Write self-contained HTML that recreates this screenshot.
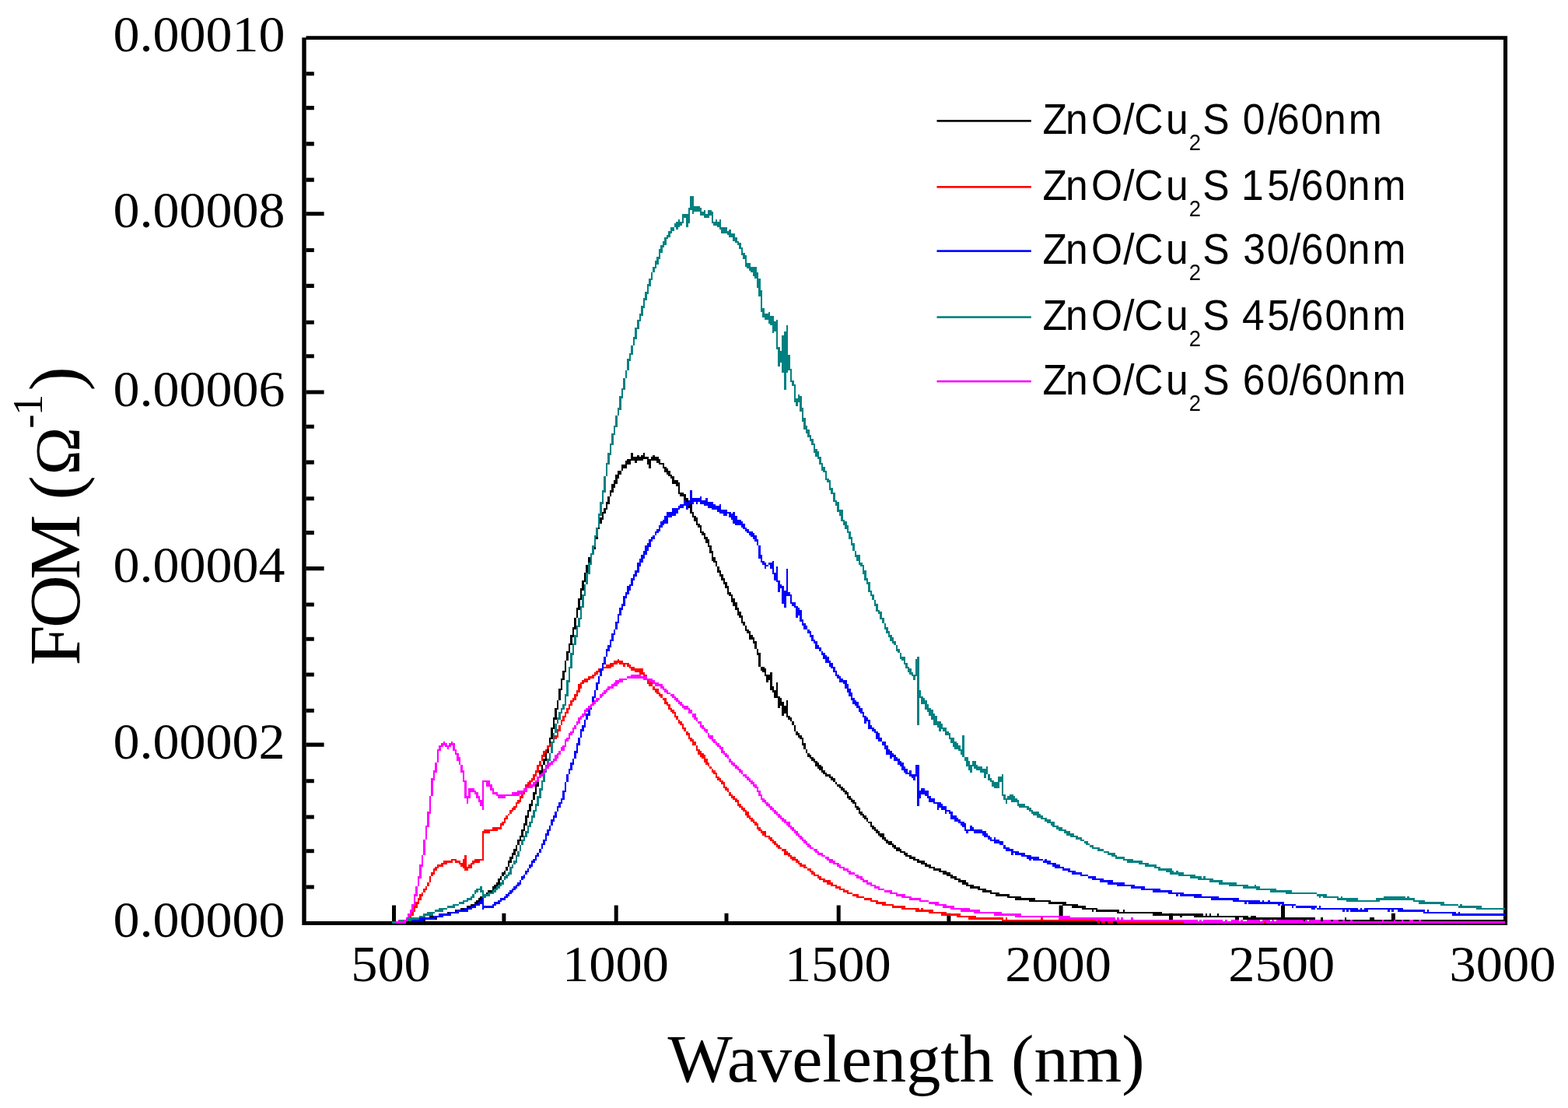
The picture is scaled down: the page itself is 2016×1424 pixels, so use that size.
<!DOCTYPE html><html><head><meta charset="utf-8"><title>FOM vs Wavelength</title><style>html,body{margin:0;padding:0;background:#fff;overflow:hidden;}svg{display:block;}</style></head><body>
<svg width="2016" height="1424" viewBox="0 0 2016 1424">
<rect width="2016" height="1424" fill="#fff"/>
<path d="M393.5,46.3H1938.1V51.1H393.5Z M388.3,48.2H393.7V1189.1H388.3Z M1933,46.3H1938.1V1189.1H1933Z M388.3,1184H1938.1V1189.1H388.3Z" fill="#000"/>
<path d="M393.5,92.25H403.8V97.35H393.5ZM393.5,136.05H403.8V141.15H393.5ZM393.5,182.35H403.8V187.45H393.5ZM393.5,228.55H403.8V233.65H393.5ZM393.5,272.15H416.6V277.25H393.5ZM393.5,318.95H403.8V324.05H393.5ZM393.5,364.85H403.8V369.95H393.5ZM393.5,411.65H403.8V416.75H393.5ZM393.5,455.25H403.8V460.35H393.5ZM393.5,501.45H416.6V506.55H393.5ZM393.5,545.75H403.8V550.85H393.5ZM393.5,591.55H403.8V596.65H393.5ZM393.5,638.15H403.8V643.25H393.5ZM393.5,682.05H403.8V687.15H393.5ZM393.5,728.05H416.6V733.15H393.5ZM393.5,774.45H403.8V779.55H393.5ZM393.5,818.65H403.8V823.75H393.5ZM393.5,864.45H403.8V869.55H393.5ZM393.5,910.75H403.8V915.85H393.5ZM393.5,954.55H416.6V959.65H393.5ZM393.5,1001.15H403.8V1006.25H393.5ZM393.5,1047.45H403.8V1052.55H393.5ZM393.5,1091.25H403.8V1096.35H393.5ZM393.5,1137.45H403.8V1142.55H393.5ZM504.00,1163.5H509.00V1184.2H504.00ZM645.40,1173.8H650.40V1184.2H645.40ZM789.70,1163.5H794.70V1184.2H789.70ZM931.50,1173.8H936.50V1184.2H931.50ZM1075.70,1163.5H1080.70V1184.2H1075.70ZM1217.40,1173.8H1222.40V1184.2H1217.40ZM1361.60,1163.5H1366.60V1184.2H1361.60ZM1503.00,1173.8H1508.00V1184.2H1503.00ZM1647.00,1163.5H1652.00V1184.2H1647.00ZM1788.90,1173.8H1793.90V1184.2H1788.90Z" fill="#000"/>
<path d="M509 1184h3v3h-3zM512 1184h2v3h-2zM514 1184h3v3h-3zM517 1182h2v2h-2zM519 1182h3v2h-3zM522 1182h2v2h-2zM524 1182h3v2h-3zM527 1182h2v2h-2zM529 1182h3v2h-3zM532 1179h2v5h-2zM534 1179h3v5h-3zM537 1179h2v5h-2zM539 1179h3v3h-3zM542 1179h2v3h-2zM544 1179h3v5h-3zM547 1179h2v3h-2zM549 1179h3v3h-3zM552 1177h2v5h-2zM554 1177h3v5h-3zM557 1177h2v5h-2zM559 1177h3v5h-3zM562 1177h2v2h-2zM564 1177h3v2h-3zM567 1174h3v5h-3zM570 1174h2v3h-2zM572 1174h3v3h-3zM575 1172h2v5h-2zM577 1172h3v5h-3zM580 1172h2v2h-2zM582 1172h3v2h-3zM585 1169h2v5h-2zM587 1169h3v5h-3zM590 1169h2v3h-2zM592 1167h3v5h-3zM595 1167h2v5h-2zM597 1167h3v2h-3zM600 1164h2v5h-2zM602 1164h3v3h-3zM605 1162h2v5h-2zM607 1162h3v5h-3zM610 1159h2v5h-2zM612 1157h3v5h-3zM615 1154h2v5h-2zM617 1152h3v5h-3zM620 1152h2v2h-2zM622 1149h3v3h-3zM625 1147h2v5h-2zM627 1144h3v5h-3zM630 1144h3v3h-3zM633 1139h2v5h-2zM635 1137h3v5h-3zM638 1134h2v5h-2zM640 1129h3v8h-3zM643 1126h2v5h-2zM645 1121h3v5h-3zM648 1119h2v5h-2zM650 1114h3v5h-3zM653 1106h2v8h-2zM655 1101h3v8h-3zM658 1096h2v8h-2zM660 1091h3v8h-3zM663 1086h2v8h-2zM665 1079h3v7h-3zM668 1074h2v7h-2zM670 1066h3v10h-3zM673 1058h2v10h-2zM675 1048h3v13h-3zM678 1041h2v10h-2zM680 1033h3v10h-3zM683 1028h2v8h-2zM685 1018h3v10h-3zM688 1008h2v13h-2zM690 998h3v13h-3zM693 990h3v10h-3zM696 983h2v10h-2zM698 975h3v8h-3zM701 968h2v10h-2zM703 958h3v10h-3zM706 948h2v12h-2zM708 935h3v15h-3zM711 922h2v15h-2zM713 910h3v15h-3zM716 900h2v12h-2zM718 885h3v15h-3zM721 872h2v15h-2zM723 862h3v12h-3zM726 849h2v15h-2zM728 837h3v12h-3zM731 827h2v12h-2zM733 816h3v13h-3zM736 806h2v13h-2zM738 794h3v15h-3zM741 781h2v13h-2zM743 769h3v15h-3zM746 756h2v15h-2zM748 746h3v13h-3zM751 736h2v12h-2zM753 726h3v12h-3zM756 716h3v10h-3zM759 711h2v7h-2zM761 703h3v10h-3zM764 690h2v16h-2zM766 678h3v15h-3zM769 670h2v10h-2zM771 665h3v8h-3zM774 658h2v10h-2zM776 653h3v7h-3zM779 645h2v10h-2zM781 638h3v10h-3zM784 630h2v8h-2zM786 622h3v11h-3zM789 617h2v10h-2zM791 610h3v12h-3zM794 605h2v10h-2zM796 605h3v5h-3zM799 597h2v8h-2zM801 597h3v5h-3zM804 592h2v10h-2zM806 590h3v7h-3zM809 590h2v7h-2zM811 582h3v10h-3zM814 587h2v5h-2zM816 587h3v8h-3zM819 585h3v7h-3zM822 587h2v5h-2zM824 585h3v7h-3zM827 582h2v8h-2zM829 587h3v3h-3zM832 587h2v10h-2zM834 590h3v12h-3zM837 587h2v5h-2zM839 585h3v7h-3zM842 587h2v5h-2zM844 587h3v8h-3zM847 590h2v7h-2zM849 595h3v2h-3zM852 595h2v7h-2zM854 600h3v7h-3zM857 602h2v8h-2zM859 605h3v7h-3zM862 610h2v5h-2zM864 612h3v10h-3zM867 617h2v5h-2zM869 617h3v8h-3zM872 620h2v15h-2zM874 633h3v5h-3zM877 633h2v5h-2zM879 635h3v8h-3zM882 640h3v10h-3zM885 643h2v10h-2zM887 648h3v12h-3zM890 658h2v7h-2zM892 663h3v7h-3zM895 665h2v10h-2zM897 673h3v5h-3zM900 675h2v10h-2zM902 683h3v5h-3zM905 685h2v8h-2zM907 690h3v8h-3zM910 693h2v10h-2zM912 701h3v10h-3zM915 708h2v13h-2zM917 716h3v7h-3zM920 721h2v7h-2zM922 728h3v8h-3zM925 733h2v8h-2zM927 738h3v8h-3zM930 743h2v8h-2zM932 748h3v8h-3zM935 753h2v11h-2zM937 761h3v5h-3zM940 764h2v10h-2zM942 769h3v10h-3zM945 774h3v10h-3zM948 781h2v10h-2zM950 786h3v8h-3zM953 791h2v10h-2zM955 799h3v5h-3zM958 804h2v7h-2zM960 809h3v5h-3zM963 811h2v11h-2zM965 816h3v6h-3zM968 819h2v8h-2zM970 824h3v10h-3zM973 834h2v8h-2zM975 839h3v18h-3zM978 857h2v5h-2zM980 857h3v7h-3zM983 859h2v10h-2zM985 867h3v10h-3zM988 867h2v7h-2zM990 864h3v23h-3zM993 882h2v8h-2zM995 887h3v10h-3zM998 877h2v20h-2zM1000 895h3v15h-3zM1003 897h2v10h-2zM1005 902h3v18h-3zM1008 907h3v10h-3zM1011 900h2v22h-2zM1013 920h3v5h-3zM1016 922h2v5h-2zM1018 927h3v5h-3zM1021 932h2v8h-2zM1023 940h3v5h-3zM1026 942h2v6h-2zM1028 945h3v5h-3zM1031 948h2v10h-2zM1033 955h3v8h-3zM1036 963h2v5h-2zM1038 968h3v5h-3zM1041 970h2v5h-2zM1043 973h3v5h-3zM1046 975h2v5h-2zM1048 978h3v7h-3zM1051 980h2v8h-2zM1053 983h3v7h-3zM1056 985h2v8h-2zM1058 990h3v5h-3zM1061 993h2v5h-2zM1063 995h3v3h-3zM1066 995h2v5h-2zM1068 998h3v5h-3zM1071 1000h3v5h-3zM1074 1005h2v3h-2zM1076 1008h3v3h-3zM1079 1008h2v5h-2zM1081 1011h3v5h-3zM1084 1013h2v5h-2zM1086 1016h3v5h-3zM1089 1018h2v8h-2zM1091 1023h3v5h-3zM1094 1026h2v5h-2zM1096 1028h3v5h-3zM1099 1031h2v7h-2zM1101 1036h3v5h-3zM1104 1038h2v8h-2zM1106 1043h3v5h-3zM1109 1046h2v5h-2zM1111 1048h3v5h-3zM1114 1051h2v5h-2zM1116 1056h3v2h-3zM1119 1056h2v7h-2zM1121 1061h3v5h-3zM1124 1063h2v5h-2zM1126 1066h3v5h-3zM1129 1068h2v6h-2zM1131 1071h3v5h-3zM1134 1071h3v8h-3zM1137 1076h2v5h-2zM1139 1079h3v5h-3zM1142 1081h2v5h-2zM1144 1081h3v5h-3zM1147 1084h2v5h-2zM1149 1086h3v5h-3zM1152 1089h2v5h-2zM1154 1089h3v5h-3zM1157 1091h2v5h-2zM1159 1094h3v2h-3zM1162 1094h2v5h-2zM1164 1096h3v5h-3zM1167 1099h2v2h-2zM1169 1099h3v5h-3zM1172 1101h2v3h-2zM1174 1101h3v5h-3zM1177 1104h2v2h-2zM1179 1104h3v5h-3zM1182 1106h2v3h-2zM1184 1106h3v5h-3zM1187 1106h2v5h-2zM1189 1109h3v5h-3zM1192 1111h2v3h-2zM1194 1111h3v5h-3zM1197 1114h3v2h-3zM1200 1114h2v5h-2zM1202 1116h3v3h-3zM1205 1116h2v3h-2zM1207 1116h3v5h-3zM1210 1119h2v2h-2zM1212 1119h3v5h-3zM1215 1119h2v5h-2zM1217 1121h3v5h-3zM1220 1121h2v5h-2zM1222 1124h3v5h-3zM1225 1126h2v3h-2zM1227 1126h3v5h-3zM1230 1129h2v2h-2zM1232 1129h3v5h-3zM1235 1131h2v3h-2zM1237 1131h3v6h-3zM1240 1131h2v6h-2zM1242 1134h3v5h-3zM1245 1137h2v2h-2zM1247 1137h3v5h-3zM1250 1137h2v5h-2zM1252 1139h3v3h-3zM1255 1139h2v3h-2zM1257 1139h3v5h-3zM1260 1142h3v2h-3zM1263 1142h2v5h-2zM1265 1142h3v5h-3zM1268 1144h2v3h-2zM1270 1144h3v3h-3zM1273 1144h2v5h-2zM1275 1147h3v2h-3zM1278 1147h2v2h-2zM1280 1147h3v5h-3zM1283 1147h2v5h-2zM1285 1149h3v3h-3zM1288 1149h2v3h-2zM1290 1149h3v3h-3zM1293 1149h2v3h-2zM1295 1149h3v5h-3zM1298 1152h2v2h-2zM1300 1152h3v2h-3zM1303 1152h2v2h-2zM1305 1152h3v5h-3zM1308 1152h2v5h-2zM1310 1152h3v5h-3zM1313 1154h2v3h-2zM1315 1154h3v3h-3zM1318 1154h2v3h-2zM1320 1154h3v3h-3zM1323 1154h3v5h-3zM1326 1154h2v5h-2zM1328 1154h3v5h-3zM1331 1157h2v2h-2zM1333 1157h3v2h-3zM1336 1157h2v2h-2zM1338 1157h3v2h-3zM1341 1157h2v2h-2zM1343 1157h3v2h-3zM1346 1157h2v2h-2zM1348 1157h3v5h-3zM1351 1159h2v3h-2zM1353 1159h3v3h-3zM1356 1159h2v3h-2zM1358 1159h3v3h-3zM1361 1159h2v3h-2zM1363 1159h3v3h-3zM1366 1159h2v5h-2zM1368 1159h3v5h-3zM1371 1162h2v2h-2zM1373 1162h3v2h-3zM1376 1162h2v2h-2zM1378 1162h3v5h-3zM1381 1162h2v5h-2zM1383 1162h3v5h-3zM1386 1164h3v3h-3zM1389 1164h2v3h-2zM1391 1164h3v5h-3zM1394 1164h2v5h-2zM1396 1167h3v2h-3zM1399 1167h2v2h-2zM1401 1167h3v2h-3zM1404 1167h2v5h-2zM1406 1167h3v2h-3zM1409 1167h2v5h-2zM1411 1169h3v3h-3zM1414 1169h2v3h-2zM1416 1169h3v3h-3zM1419 1169h2v3h-2zM1421 1169h3v3h-3zM1424 1169h2v3h-2zM1426 1169h3v3h-3zM1429 1169h2v3h-2zM1431 1169h3v3h-3zM1434 1169h2v3h-2zM1436 1169h3v5h-3zM1439 1172h2v2h-2zM1441 1172h3v2h-3zM1444 1169h2v5h-2zM1446 1172h3v2h-3zM1449 1172h3v2h-3zM1452 1172h2v2h-2zM1454 1172h3v2h-3zM1457 1172h2v2h-2zM1459 1172h3v2h-3zM1462 1172h2v2h-2zM1464 1172h3v2h-3zM1467 1172h2v2h-2zM1469 1172h3v2h-3zM1472 1172h2v2h-2zM1474 1172h3v2h-3zM1477 1172h2v2h-2zM1479 1172h3v2h-3zM1482 1172h2v5h-2zM1484 1172h3v5h-3zM1487 1172h2v5h-2zM1489 1172h3v5h-3zM1492 1172h2v5h-2zM1494 1174h3v3h-3zM1497 1174h2v3h-2zM1499 1174h3v3h-3zM1502 1174h2v3h-2zM1504 1174h3v3h-3zM1507 1174h2v3h-2zM1509 1174h3v3h-3zM1512 1174h3v3h-3zM1515 1174h2v3h-2zM1517 1174h3v5h-3zM1520 1174h2v3h-2zM1522 1174h3v3h-3zM1525 1174h2v3h-2zM1527 1174h3v3h-3zM1530 1174h2v3h-2zM1532 1174h3v3h-3zM1535 1174h2v5h-2zM1537 1174h3v5h-3zM1540 1174h2v5h-2zM1542 1174h3v5h-3zM1545 1174h2v5h-2zM1547 1177h3v2h-3zM1550 1174h2v5h-2zM1552 1177h3v2h-3zM1555 1174h2v5h-2zM1557 1177h3v2h-3zM1560 1177h2v2h-2zM1562 1177h3v2h-3zM1565 1174h2v5h-2zM1567 1177h3v2h-3zM1570 1177h2v2h-2zM1572 1177h3v2h-3zM1575 1177h3v2h-3zM1578 1177h2v2h-2zM1580 1177h3v2h-3zM1583 1177h2v2h-2zM1585 1177h3v2h-3zM1588 1177h2v5h-2zM1590 1177h3v5h-3zM1593 1177h2v2h-2zM1595 1177h3v2h-3zM1598 1177h2v5h-2zM1600 1177h3v5h-3zM1603 1177h2v5h-2zM1605 1179h3v3h-3zM1608 1177h2v5h-2zM1610 1177h3v5h-3zM1613 1177h2v5h-2zM1615 1179h3v3h-3zM1618 1179h2v3h-2zM1620 1179h3v3h-3zM1623 1179h2v3h-2zM1625 1179h3v3h-3zM1628 1179h2v3h-2zM1630 1179h3v3h-3zM1633 1179h2v3h-2zM1635 1179h3v3h-3zM1638 1179h3v3h-3zM1641 1179h2v3h-2zM1643 1179h3v3h-3zM1646 1179h2v3h-2zM1648 1179h3v3h-3zM1651 1179h2v3h-2zM1653 1179h3v3h-3zM1656 1179h2v3h-2zM1658 1179h3v3h-3zM1661 1179h2v3h-2zM1663 1179h3v3h-3zM1666 1179h2v3h-2zM1668 1179h3v3h-3zM1671 1179h2v3h-2zM1673 1179h3v3h-3zM1676 1179h2v5h-2zM1678 1179h3v5h-3zM1681 1179h2v3h-2zM1683 1179h3v5h-3zM1686 1179h2v5h-2zM1688 1179h3v5h-3zM1691 1182h2v2h-2zM1693 1182h3v2h-3zM1696 1182h2v2h-2zM1698 1179h3v5h-3zM1701 1182h3v2h-3zM1704 1182h2v2h-2zM1706 1182h3v2h-3zM1709 1182h2v2h-2zM1711 1182h3v2h-3zM1714 1182h2v2h-2zM1716 1182h3v2h-3zM1719 1182h2v2h-2zM1721 1182h3v2h-3zM1724 1182h2v2h-2zM1726 1182h3v2h-3zM1729 1179h2v5h-2zM1731 1182h3v2h-3zM1734 1182h2v2h-2zM1736 1182h3v2h-3zM1739 1182h2v2h-2zM1741 1182h3v2h-3zM1744 1182h2v2h-2zM1746 1182h3v2h-3zM1749 1182h2v2h-2zM1751 1182h3v2h-3zM1754 1182h2v2h-2zM1756 1182h3v2h-3zM1759 1182h2v2h-2zM1761 1179h3v5h-3zM1764 1179h3v5h-3zM1767 1182h2v2h-2zM1769 1182h3v2h-3zM1772 1182h2v2h-2zM1774 1182h3v2h-3zM1777 1182h2v2h-2zM1779 1182h3v2h-3zM1782 1182h2v2h-2zM1784 1182h3v2h-3zM1787 1182h2v2h-2zM1789 1182h3v2h-3zM1792 1182h2v2h-2zM1794 1182h3v2h-3zM1797 1182h2v2h-2zM1799 1182h3v2h-3zM1802 1182h2v2h-2zM1804 1182h3v2h-3zM1807 1182h2v2h-2zM1809 1182h3v2h-3zM1812 1182h2v2h-2zM1814 1182h3v2h-3zM1817 1182h2v2h-2zM1819 1182h3v2h-3zM1822 1182h2v2h-2zM1824 1182h3v2h-3zM1827 1182h3v2h-3zM1830 1182h2v2h-2zM1832 1182h3v2h-3zM1835 1182h2v2h-2zM1837 1182h3v2h-3zM1840 1182h2v2h-2zM1842 1182h3v2h-3zM1845 1182h2v2h-2zM1847 1182h3v2h-3zM1850 1182h2v2h-2zM1852 1182h3v2h-3zM1855 1182h2v2h-2zM1857 1182h3v2h-3zM1860 1182h2v2h-2zM1862 1182h3v2h-3zM1865 1182h2v2h-2zM1867 1182h3v2h-3zM1870 1182h2v2h-2zM1872 1182h3v2h-3zM1875 1182h2v2h-2zM1877 1182h3v2h-3zM1880 1182h2v2h-2zM1882 1182h3v2h-3zM1885 1182h2v2h-2zM1887 1182h3v2h-3zM1890 1182h3v2h-3zM1893 1182h2v2h-2zM1895 1182h3v2h-3zM1898 1182h2v2h-2zM1900 1182h3v2h-3zM1903 1182h2v2h-2zM1905 1182h3v2h-3zM1908 1182h2v2h-2zM1910 1182h3v2h-3zM1913 1182h2v2h-2zM1915 1182h3v2h-3zM1918 1182h2v2h-2zM1920 1182h3v2h-3zM1923 1182h2v2h-2zM1925 1182h3v2h-3zM1928 1182h2v2h-2zM1930 1182h3v2h-3zM1933 1182h2v2h-2z" fill="#000000" shape-rendering="crispEdges"/>
<path d="M519 1182h3v5h-3zM522 1179h2v5h-2zM524 1177h3v5h-3zM527 1174h2v5h-2zM529 1169h3v8h-3zM532 1164h2v8h-2zM534 1159h3v8h-3zM537 1154h2v8h-2zM539 1149h3v8h-3zM542 1147h2v5h-2zM544 1142h3v5h-3zM547 1139h2v5h-2zM549 1134h3v5h-3zM552 1126h2v8h-2zM554 1121h3v5h-3zM557 1116h2v8h-2zM559 1114h3v5h-3zM562 1111h2v5h-2zM564 1111h3v3h-3zM567 1109h3v5h-3zM570 1106h2v5h-2zM572 1106h3v5h-3zM575 1106h2v3h-2zM577 1106h3v3h-3zM580 1104h2v5h-2zM582 1104h3v2h-3zM585 1104h2v5h-2zM587 1106h3v3h-3zM590 1106h2v5h-2zM592 1109h3v5h-3zM595 1104h2v12h-2zM597 1099h3v20h-3zM600 1114h2v5h-2zM602 1111h3v5h-3zM605 1109h2v7h-2zM607 1106h3v5h-3zM610 1104h2v5h-2zM612 1104h3v5h-3zM615 1104h2v5h-2zM617 1104h3v2h-3zM620 1068h2v38h-2zM622 1066h3v5h-3zM625 1066h2v5h-2zM627 1066h3v5h-3zM630 1066h3v2h-3zM633 1063h2v5h-2zM635 1063h3v5h-3zM638 1063h2v5h-2zM640 1063h3v3h-3zM643 1058h2v8h-2zM645 1056h3v5h-3zM648 1051h2v7h-2zM650 1048h3v5h-3zM653 1046h2v2h-2zM655 1041h3v5h-3zM658 1038h2v5h-2zM660 1036h3v5h-3zM663 1031h2v7h-2zM665 1028h3v5h-3zM668 1023h2v8h-2zM670 1018h3v8h-3zM673 1013h2v8h-2zM675 1008h3v8h-3zM678 1005h2v6h-2zM680 1003h3v5h-3zM683 1000h2v5h-2zM685 995h3v8h-3zM688 990h2v8h-2zM690 983h3v10h-3zM693 978h3v7h-3zM696 970h2v8h-2zM698 965h3v8h-3zM701 963h2v5h-2zM703 958h3v5h-3zM706 955h2v5h-2zM708 953h3v5h-3zM711 948h2v5h-2zM713 945h3v5h-3zM716 937h2v11h-2zM718 932h3v8h-3zM721 925h2v7h-2zM723 920h3v7h-3zM726 915h2v7h-2zM728 910h3v7h-3zM731 905h2v7h-2zM733 900h3v7h-3zM736 897h2v5h-2zM738 892h3v8h-3zM741 887h2v8h-2zM743 879h3v11h-3zM746 877h2v8h-2zM748 874h3v5h-3zM751 872h2v5h-2zM753 872h3v5h-3zM756 869h3v5h-3zM759 869h2v3h-2zM761 867h3v5h-3zM764 864h2v5h-2zM766 862h3v5h-3zM769 859h2v5h-2zM771 859h3v3h-3zM774 857h2v5h-2zM776 857h3v2h-3zM779 854h2v5h-2zM781 854h3v5h-3zM784 852h2v7h-2zM786 852h3v5h-3zM789 849h2v5h-2zM791 849h3v5h-3zM794 847h2v5h-2zM796 849h3v5h-3zM799 849h2v5h-2zM801 852h3v5h-3zM804 852h2v2h-2zM806 852h3v5h-3zM809 854h2v5h-2zM811 857h3v5h-3zM814 857h2v5h-2zM816 859h3v5h-3zM819 859h3v5h-3zM822 859h2v8h-2zM824 859h3v8h-3zM827 864h2v5h-2zM829 867h3v7h-3zM832 872h2v7h-2zM834 877h3v5h-3zM837 877h2v5h-2zM839 882h3v5h-3zM842 885h2v5h-2zM844 885h3v7h-3zM847 890h2v5h-2zM849 892h3v5h-3zM852 897h2v3h-2zM854 897h3v8h-3zM857 902h2v5h-2zM859 905h3v7h-3zM862 910h2v5h-2zM864 912h3v5h-3zM867 915h2v7h-2zM869 920h3v5h-3zM872 925h2v5h-2zM874 927h3v5h-3zM877 930h2v7h-2zM879 935h3v5h-3zM882 940h3v5h-3zM885 942h2v8h-2zM887 948h3v5h-3zM890 950h2v8h-2zM892 953h3v5h-3zM895 958h2v7h-2zM897 963h3v7h-3zM900 965h2v8h-2zM902 968h3v7h-3zM905 970h2v10h-2zM907 975h3v8h-3zM910 980h2v5h-2zM912 985h3v3h-3zM915 988h2v5h-2zM917 990h3v5h-3zM920 993h2v7h-2zM922 998h3v5h-3zM925 1000h2v5h-2zM927 1003h3v5h-3zM930 1005h2v8h-2zM932 1011h3v5h-3zM935 1013h2v5h-2zM937 1018h3v5h-3zM940 1021h2v5h-2zM942 1023h3v5h-3zM945 1026h3v5h-3zM948 1028h2v8h-2zM950 1033h3v5h-3zM953 1036h2v5h-2zM955 1038h3v5h-3zM958 1041h2v7h-2zM960 1043h3v8h-3zM963 1048h2v5h-2zM965 1051h3v5h-3zM968 1053h2v5h-2zM970 1056h3v5h-3zM973 1058h2v8h-2zM975 1063h3v5h-3zM978 1066h2v5h-2zM980 1068h3v6h-3zM983 1068h2v8h-2zM985 1074h3v2h-3zM988 1074h2v5h-2zM990 1076h3v5h-3zM993 1079h2v5h-2zM995 1081h3v5h-3zM998 1084h2v5h-2zM1000 1086h3v5h-3zM1003 1089h2v2h-2zM1005 1091h3v3h-3zM1008 1091h3v8h-3zM1011 1094h2v5h-2zM1013 1096h3v5h-3zM1016 1099h2v5h-2zM1018 1101h3v5h-3zM1021 1101h2v5h-2zM1023 1104h3v5h-3zM1026 1106h2v5h-2zM1028 1109h3v5h-3zM1031 1111h2v3h-2zM1033 1111h3v5h-3zM1036 1114h2v2h-2zM1038 1116h3v3h-3zM1041 1116h2v5h-2zM1043 1119h3v5h-3zM1046 1121h2v5h-2zM1048 1124h3v2h-3zM1051 1124h2v5h-2zM1053 1126h3v5h-3zM1056 1129h2v2h-2zM1058 1129h3v5h-3zM1061 1131h2v3h-2zM1063 1131h3v6h-3zM1066 1131h2v6h-2zM1068 1134h3v5h-3zM1071 1137h3v2h-3zM1074 1137h2v5h-2zM1076 1139h3v3h-3zM1079 1139h2v5h-2zM1081 1142h3v2h-3zM1084 1142h2v5h-2zM1086 1144h3v3h-3zM1089 1144h2v5h-2zM1091 1147h3v2h-3zM1094 1147h2v2h-2zM1096 1149h3v3h-3zM1099 1149h2v3h-2zM1101 1149h3v5h-3zM1104 1152h2v2h-2zM1106 1152h3v2h-3zM1109 1152h2v2h-2zM1111 1154h3v3h-3zM1114 1154h2v3h-2zM1116 1154h3v3h-3zM1119 1154h2v5h-2zM1121 1157h3v2h-3zM1124 1157h2v2h-2zM1126 1157h3v5h-3zM1129 1159h2v3h-2zM1131 1159h3v3h-3zM1134 1159h3v5h-3zM1137 1159h2v5h-2zM1139 1162h3v2h-3zM1142 1162h2v2h-2zM1144 1162h3v2h-3zM1147 1162h2v5h-2zM1149 1164h3v3h-3zM1152 1164h2v3h-2zM1154 1164h3v3h-3zM1157 1164h2v3h-2zM1159 1164h3v5h-3zM1162 1164h2v5h-2zM1164 1167h3v2h-3zM1167 1167h2v2h-2zM1169 1167h3v2h-3zM1172 1167h2v2h-2zM1174 1167h3v2h-3zM1177 1167h2v5h-2zM1179 1167h3v5h-3zM1182 1169h2v3h-2zM1184 1167h3v5h-3zM1187 1169h2v3h-2zM1189 1169h3v3h-3zM1192 1169h2v3h-2zM1194 1169h3v5h-3zM1197 1169h3v5h-3zM1200 1172h2v2h-2zM1202 1172h3v2h-3zM1205 1172h2v2h-2zM1207 1172h3v2h-3zM1210 1172h2v5h-2zM1212 1172h3v5h-3zM1215 1172h2v5h-2zM1217 1174h3v3h-3zM1220 1174h2v3h-2zM1222 1174h3v3h-3zM1225 1174h2v3h-2zM1227 1174h3v3h-3zM1230 1174h2v5h-2zM1232 1174h3v5h-3zM1235 1177h2v2h-2zM1237 1177h3v2h-3zM1240 1177h2v2h-2zM1242 1177h3v2h-3zM1245 1177h2v5h-2zM1247 1177h3v5h-3zM1250 1177h2v5h-2zM1252 1177h3v5h-3zM1255 1179h2v3h-2zM1257 1179h3v3h-3zM1260 1179h3v3h-3zM1263 1179h2v3h-2zM1265 1179h3v3h-3zM1268 1179h2v3h-2zM1270 1179h3v3h-3zM1273 1179h2v3h-2zM1275 1179h3v3h-3zM1278 1179h2v3h-2zM1280 1179h3v3h-3zM1283 1179h2v3h-2zM1285 1179h3v3h-3zM1288 1179h2v5h-2zM1290 1182h3v2h-3zM1293 1179h2v5h-2zM1295 1182h3v2h-3zM1298 1182h2v2h-2zM1300 1182h3v2h-3zM1303 1182h2v2h-2zM1305 1182h3v2h-3zM1308 1182h2v2h-2zM1310 1182h3v2h-3zM1313 1182h2v2h-2zM1315 1182h3v2h-3zM1318 1182h2v2h-2zM1320 1182h3v2h-3zM1323 1182h3v2h-3zM1326 1182h2v2h-2zM1328 1182h3v2h-3zM1331 1182h2v2h-2zM1333 1182h3v2h-3zM1336 1182h2v2h-2zM1338 1179h3v5h-3zM1341 1182h2v2h-2zM1343 1182h3v2h-3zM1346 1182h2v2h-2zM1348 1182h3v2h-3zM1351 1182h2v2h-2zM1353 1182h3v2h-3zM1356 1182h2v2h-2zM1358 1182h3v2h-3zM1361 1182h2v2h-2zM1363 1182h3v2h-3zM1366 1182h2v2h-2zM1368 1182h3v2h-3zM1371 1182h2v2h-2zM1373 1182h3v2h-3zM1376 1182h2v2h-2zM1378 1182h3v2h-3zM1381 1182h2v2h-2zM1383 1182h3v2h-3zM1386 1182h3v2h-3zM1389 1182h2v2h-2zM1391 1182h3v2h-3zM1394 1182h2v2h-2zM1396 1182h3v2h-3zM1399 1182h2v2h-2zM1401 1182h3v2h-3zM1404 1182h2v2h-2zM1406 1182h3v2h-3zM1409 1182h2v2h-2zM1411 1182h3v5h-3zM1414 1182h2v2h-2zM1416 1182h3v5h-3zM1419 1182h2v5h-2zM1421 1182h3v2h-3zM1424 1182h2v5h-2zM1426 1182h3v5h-3zM1429 1182h2v5h-2zM1431 1182h3v2h-3zM1434 1182h2v2h-2zM1436 1182h3v5h-3zM1439 1182h2v5h-2zM1441 1182h3v5h-3zM1444 1182h2v5h-2zM1446 1182h3v5h-3zM1449 1182h3v5h-3zM1452 1182h2v5h-2zM1454 1182h3v5h-3zM1457 1182h2v5h-2zM1459 1182h3v5h-3zM1462 1182h2v5h-2zM1464 1182h3v5h-3zM1467 1182h2v5h-2zM1469 1182h3v5h-3zM1472 1182h2v5h-2zM1474 1182h3v5h-3zM1477 1182h2v5h-2zM1479 1182h3v5h-3zM1482 1184h2v3h-2zM1484 1182h3v5h-3zM1487 1182h2v5h-2zM1489 1182h3v5h-3zM1492 1184h2v3h-2zM1494 1182h3v5h-3zM1497 1182h2v5h-2zM1499 1182h3v5h-3zM1502 1184h2v3h-2zM1504 1184h3v3h-3zM1507 1184h2v3h-2zM1509 1184h3v3h-3zM1512 1184h3v3h-3zM1515 1184h2v3h-2zM1517 1184h3v3h-3zM1520 1184h2v3h-2zM1522 1182h3v5h-3zM1525 1184h2v3h-2zM1527 1184h3v3h-3zM1530 1184h2v3h-2zM1532 1184h3v3h-3zM1535 1184h2v3h-2zM1537 1182h3v5h-3zM1540 1184h2v3h-2zM1542 1184h3v3h-3zM1545 1184h2v3h-2zM1547 1184h3v3h-3zM1550 1184h2v3h-2zM1552 1184h3v3h-3zM1555 1184h2v3h-2zM1557 1184h3v3h-3zM1560 1184h2v3h-2zM1562 1184h3v3h-3zM1565 1182h2v5h-2zM1567 1184h3v3h-3zM1570 1184h2v3h-2zM1572 1184h3v3h-3zM1575 1184h3v3h-3zM1578 1184h2v3h-2zM1580 1184h3v3h-3zM1583 1184h2v3h-2zM1585 1184h3v3h-3zM1588 1184h2v3h-2zM1590 1184h3v3h-3zM1593 1184h2v3h-2zM1595 1184h3v3h-3zM1598 1184h2v3h-2zM1600 1184h3v3h-3zM1603 1184h2v3h-2zM1605 1184h3v3h-3zM1608 1184h2v3h-2zM1610 1184h3v3h-3zM1613 1184h2v3h-2zM1615 1184h3v3h-3zM1618 1184h2v3h-2zM1620 1184h3v3h-3zM1623 1184h2v3h-2zM1625 1184h3v3h-3zM1628 1184h2v3h-2zM1630 1184h3v3h-3zM1633 1184h2v3h-2zM1635 1184h3v3h-3zM1638 1184h3v3h-3zM1641 1184h2v3h-2zM1643 1184h3v3h-3zM1646 1184h2v3h-2zM1648 1184h3v3h-3zM1651 1184h2v3h-2zM1653 1184h3v3h-3zM1656 1184h2v3h-2zM1658 1184h3v3h-3zM1661 1184h2v3h-2zM1663 1184h3v3h-3zM1666 1184h2v3h-2zM1668 1184h3v3h-3zM1671 1184h2v3h-2zM1673 1184h3v3h-3zM1676 1184h2v3h-2zM1678 1184h3v3h-3zM1681 1184h2v3h-2zM1683 1184h3v3h-3zM1686 1184h2v3h-2zM1688 1184h3v3h-3zM1691 1184h2v3h-2zM1693 1184h3v3h-3zM1696 1184h2v3h-2zM1698 1184h3v3h-3zM1701 1184h3v3h-3zM1704 1184h2v3h-2zM1706 1184h3v3h-3zM1709 1184h2v3h-2zM1711 1184h3v3h-3zM1714 1184h2v3h-2zM1716 1184h3v3h-3zM1719 1184h2v3h-2zM1721 1184h3v3h-3zM1724 1184h2v3h-2zM1726 1184h3v3h-3zM1729 1184h2v3h-2zM1731 1184h3v3h-3zM1734 1184h2v3h-2zM1736 1184h3v3h-3zM1739 1184h2v3h-2zM1741 1184h3v3h-3zM1744 1184h2v3h-2zM1746 1184h3v3h-3zM1749 1184h2v3h-2zM1751 1184h3v3h-3zM1754 1184h2v3h-2zM1756 1184h3v3h-3zM1759 1184h2v3h-2zM1761 1184h3v3h-3zM1764 1184h3v3h-3zM1767 1184h2v3h-2zM1769 1184h3v3h-3zM1772 1184h2v3h-2zM1774 1184h3v3h-3zM1777 1184h2v3h-2zM1779 1184h3v3h-3zM1782 1184h2v3h-2zM1784 1184h3v3h-3zM1787 1184h2v3h-2zM1789 1184h3v3h-3zM1792 1184h2v3h-2zM1794 1184h3v3h-3zM1797 1184h2v3h-2zM1799 1184h3v3h-3zM1802 1184h2v3h-2zM1804 1184h3v3h-3zM1807 1184h2v3h-2zM1809 1184h3v3h-3zM1812 1184h2v3h-2zM1814 1184h3v3h-3zM1817 1184h2v3h-2zM1819 1184h3v3h-3zM1822 1184h2v3h-2zM1824 1184h3v3h-3zM1827 1184h3v3h-3zM1830 1184h2v3h-2zM1832 1184h3v3h-3zM1835 1184h2v3h-2zM1837 1184h3v3h-3zM1840 1184h2v3h-2zM1842 1184h3v3h-3zM1845 1184h2v3h-2zM1847 1184h3v3h-3zM1850 1184h2v3h-2zM1852 1184h3v3h-3zM1855 1184h2v3h-2zM1857 1184h3v3h-3zM1860 1184h2v3h-2zM1862 1184h3v3h-3zM1865 1184h2v3h-2zM1867 1184h3v3h-3zM1870 1184h2v3h-2zM1872 1184h3v3h-3zM1875 1184h2v3h-2zM1877 1184h3v3h-3zM1880 1184h2v3h-2zM1882 1184h3v3h-3zM1885 1184h2v3h-2zM1887 1184h3v3h-3zM1890 1184h3v3h-3zM1893 1184h2v3h-2zM1895 1184h3v3h-3zM1898 1184h2v3h-2zM1900 1184h3v3h-3zM1903 1184h2v3h-2zM1905 1184h3v3h-3zM1908 1184h2v3h-2zM1910 1184h3v3h-3zM1913 1184h2v3h-2zM1915 1184h3v3h-3zM1918 1184h2v3h-2zM1920 1184h3v3h-3zM1923 1184h2v3h-2zM1925 1184h3v3h-3zM1928 1184h2v3h-2zM1930 1184h3v3h-3zM1933 1184h2v3h-2z" fill="#ff0000" shape-rendering="crispEdges"/>
<path d="M509 1184h3v3h-3zM512 1184h2v3h-2zM514 1182h3v2h-3zM517 1182h2v2h-2zM519 1182h3v2h-3zM522 1182h2v2h-2zM524 1182h3v2h-3zM527 1182h2v2h-2zM529 1182h3v2h-3zM532 1182h2v2h-2zM534 1182h3v2h-3zM537 1182h2v2h-2zM539 1179h3v5h-3zM542 1179h2v5h-2zM544 1179h3v3h-3zM547 1179h2v3h-2zM549 1179h3v3h-3zM552 1179h2v3h-2zM554 1179h3v3h-3zM557 1177h2v5h-2zM559 1177h3v2h-3zM562 1177h2v2h-2zM564 1174h3v5h-3zM567 1174h3v5h-3zM570 1174h2v3h-2zM572 1174h3v3h-3zM575 1174h2v3h-2zM577 1172h3v5h-3zM580 1172h2v2h-2zM582 1172h3v2h-3zM585 1172h2v2h-2zM587 1169h3v5h-3zM590 1169h2v3h-2zM592 1169h3v3h-3zM595 1169h2v3h-2zM597 1167h3v5h-3zM600 1167h2v5h-2zM602 1167h3v2h-3zM605 1164h2v5h-2zM607 1164h3v3h-3zM610 1162h2v5h-2zM612 1162h3v2h-3zM615 1159h2v5h-2zM617 1157h3v5h-3zM620 1154h2v15h-2zM622 1164h3v3h-3zM625 1164h2v3h-2zM627 1164h3v3h-3zM630 1164h3v3h-3zM633 1162h2v5h-2zM635 1159h3v5h-3zM638 1159h2v3h-2zM640 1157h3v5h-3zM643 1154h2v5h-2zM645 1154h3v3h-3zM648 1152h2v5h-2zM650 1149h3v5h-3zM653 1147h2v5h-2zM655 1144h3v5h-3zM658 1142h2v5h-2zM660 1139h3v5h-3zM663 1137h2v5h-2zM665 1134h3v5h-3zM668 1131h2v6h-2zM670 1126h3v5h-3zM673 1124h2v5h-2zM675 1119h3v5h-3zM678 1116h2v5h-2zM680 1111h3v5h-3zM683 1106h2v8h-2zM685 1104h3v5h-3zM688 1099h2v7h-2zM690 1096h3v5h-3zM693 1091h3v5h-3zM696 1084h2v7h-2zM698 1079h3v7h-3zM701 1071h2v10h-2zM703 1066h3v8h-3zM706 1061h2v7h-2zM708 1053h3v8h-3zM711 1048h2v8h-2zM713 1043h3v8h-3zM716 1036h2v7h-2zM718 1031h3v7h-3zM721 1026h2v7h-2zM723 1016h3v12h-3zM726 1005h2v13h-2zM728 995h3v10h-3zM731 988h2v7h-2zM733 980h3v10h-3zM736 975h2v8h-2zM738 965h3v10h-3zM741 955h2v13h-2zM743 948h3v10h-3zM746 937h2v11h-2zM748 932h3v8h-3zM751 925h2v10h-2zM753 917h3v8h-3zM756 912h3v8h-3zM759 905h2v7h-2zM761 895h3v12h-3zM764 887h2v10h-2zM766 877h3v10h-3zM769 869h2v10h-2zM771 859h3v10h-3zM774 852h2v10h-2zM776 844h3v10h-3zM779 834h2v10h-2zM781 829h3v8h-3zM784 822h2v10h-2zM786 814h3v10h-3zM789 809h2v7h-2zM791 799h3v10h-3zM794 789h2v12h-2zM796 781h3v10h-3zM799 776h2v8h-2zM801 766h3v13h-3zM804 761h2v8h-2zM806 753h3v11h-3zM809 751h2v8h-2zM811 743h3v10h-3zM814 738h2v8h-2zM816 733h3v8h-3zM819 723h3v13h-3zM822 718h2v10h-2zM824 713h3v10h-3zM827 708h2v10h-2zM829 701h3v12h-3zM832 698h2v10h-2zM834 693h3v10h-3zM837 690h2v6h-2zM839 688h3v5h-3zM842 683h2v5h-2zM844 680h3v5h-3zM847 675h2v8h-2zM849 670h3v8h-3zM852 668h2v7h-2zM854 663h3v10h-3zM857 658h2v15h-2zM859 658h3v7h-3zM862 658h2v7h-2zM864 653h3v10h-3zM867 653h2v10h-2zM869 653h3v7h-3zM872 650h2v5h-2zM874 648h3v5h-3zM877 648h2v5h-2zM879 643h3v7h-3zM882 645h3v10h-3zM885 643h2v7h-2zM887 630h3v18h-3zM890 640h2v8h-2zM892 640h3v5h-3zM895 640h2v8h-2zM897 640h3v5h-3zM900 638h2v10h-2zM902 643h3v5h-3zM905 643h2v7h-2zM907 640h3v10h-3zM910 645h2v8h-2zM912 645h3v8h-3zM915 645h2v10h-2zM917 648h3v7h-3zM920 650h2v5h-2zM922 650h3v8h-3zM925 648h2v12h-2zM927 655h3v5h-3zM930 655h2v8h-2zM932 655h3v8h-3zM935 658h2v2h-2zM937 658h3v7h-3zM940 660h2v8h-2zM942 658h3v15h-3zM945 663h3v12h-3zM948 668h2v7h-2zM950 668h3v7h-3zM953 670h2v8h-2zM955 673h3v7h-3zM958 678h2v5h-2zM960 680h3v5h-3zM963 683h2v5h-2zM965 683h3v7h-3zM968 685h2v8h-2zM970 688h3v8h-3zM973 693h2v8h-2zM975 701h3v17h-3zM978 713h2v10h-2zM980 721h3v5h-3zM983 723h2v8h-2zM985 726h3v2h-3zM988 723h2v3h-2zM990 723h3v8h-3zM993 721h2v17h-2zM995 736h3v10h-3zM998 728h2v20h-2zM1000 746h3v15h-3zM1003 751h2v5h-2zM1005 753h3v23h-3zM1008 759h3v22h-3zM1011 731h2v35h-2zM1013 761h3v5h-3zM1016 764h2v12h-2zM1018 774h3v5h-3zM1021 774h2v7h-2zM1023 779h3v15h-3zM1026 781h2v10h-2zM1028 784h3v15h-3zM1031 796h2v8h-2zM1033 801h3v8h-3zM1036 804h2v5h-2zM1038 809h3v5h-3zM1041 811h2v8h-2zM1043 816h3v8h-3zM1046 822h2v5h-2zM1048 824h3v10h-3zM1051 829h2v5h-2zM1053 832h3v5h-3zM1056 837h2v5h-2zM1058 839h3v8h-3zM1061 842h2v10h-2zM1063 844h3v8h-3zM1066 849h2v8h-2zM1068 852h3v7h-3zM1071 857h3v7h-3zM1074 862h2v7h-2zM1076 867h3v5h-3zM1079 869h2v8h-2zM1081 872h3v5h-3zM1084 874h2v5h-2zM1086 874h3v11h-3zM1089 879h2v11h-2zM1091 885h3v10h-3zM1094 890h2v10h-2zM1096 897h3v8h-3zM1099 900h2v7h-2zM1101 902h3v8h-3zM1104 907h2v8h-2zM1106 910h3v7h-3zM1109 915h2v7h-2zM1111 920h3v10h-3zM1114 922h2v5h-2zM1116 925h3v12h-3zM1119 932h2v5h-2zM1121 935h3v5h-3zM1124 937h2v5h-2zM1126 940h3v10h-3zM1129 942h2v11h-2zM1131 948h3v5h-3zM1134 953h3v5h-3zM1137 953h2v10h-2zM1139 958h3v12h-3zM1142 963h2v7h-2zM1144 965h3v10h-3zM1147 968h2v5h-2zM1149 970h3v8h-3zM1152 973h2v5h-2zM1154 975h3v8h-3zM1157 978h2v7h-2zM1159 980h3v10h-3zM1162 985h2v8h-2zM1164 988h3v7h-3zM1167 993h2v2h-2zM1169 990h3v8h-3zM1172 995h2v5h-2zM1174 995h3v8h-3zM1177 983h2v15h-2zM1179 983h3v53h-3zM1182 1016h2v10h-2zM1184 1013h3v8h-3zM1187 1013h2v8h-2zM1189 1016h3v7h-3zM1192 1016h2v10h-2zM1194 1023h3v8h-3zM1197 1026h3v5h-3zM1200 1026h2v7h-2zM1202 1031h3v2h-3zM1205 1031h2v10h-2zM1207 1031h3v7h-3zM1210 1033h2v8h-2zM1212 1036h3v5h-3zM1215 1036h2v10h-2zM1217 1041h3v2h-3zM1220 1041h2v5h-2zM1222 1043h3v10h-3zM1225 1048h2v5h-2zM1227 1048h3v8h-3zM1230 1051h2v5h-2zM1232 1053h3v5h-3zM1235 1056h2v5h-2zM1237 1056h3v7h-3zM1240 1058h2v10h-2zM1242 1066h3v5h-3zM1245 1066h2v2h-2zM1247 1061h3v7h-3zM1250 1063h2v5h-2zM1252 1066h3v5h-3zM1255 1066h2v5h-2zM1257 1066h3v5h-3zM1260 1066h3v5h-3zM1263 1068h2v6h-2zM1265 1068h3v8h-3zM1268 1071h2v5h-2zM1270 1074h3v5h-3zM1273 1076h2v5h-2zM1275 1079h3v2h-3zM1278 1076h2v8h-2zM1280 1079h3v5h-3zM1283 1079h2v5h-2zM1285 1081h3v5h-3zM1288 1081h2v5h-2zM1290 1086h3v5h-3zM1293 1089h2v5h-2zM1295 1089h3v5h-3zM1298 1091h2v3h-2zM1300 1091h3v8h-3zM1303 1094h2v2h-2zM1305 1094h3v5h-3zM1308 1094h2v5h-2zM1310 1096h3v3h-3zM1313 1096h2v5h-2zM1315 1096h3v5h-3zM1318 1099h2v2h-2zM1320 1099h3v5h-3zM1323 1099h3v7h-3zM1326 1101h2v3h-2zM1328 1101h3v5h-3zM1331 1101h2v5h-2zM1333 1101h3v5h-3zM1336 1104h2v2h-2zM1338 1104h3v2h-3zM1341 1106h2v3h-2zM1343 1104h3v5h-3zM1346 1106h2v5h-2zM1348 1106h3v5h-3zM1351 1109h2v2h-2zM1353 1109h3v5h-3zM1356 1109h2v7h-2zM1358 1111h3v5h-3zM1361 1111h2v5h-2zM1363 1114h3v2h-3zM1366 1114h2v5h-2zM1368 1116h3v3h-3zM1371 1116h2v3h-2zM1373 1116h3v5h-3zM1376 1119h2v2h-2zM1378 1119h3v5h-3zM1381 1119h2v5h-2zM1383 1121h3v3h-3zM1386 1121h3v3h-3zM1389 1121h2v5h-2zM1391 1124h3v2h-3zM1394 1124h2v2h-2zM1396 1124h3v2h-3zM1399 1126h2v3h-2zM1401 1126h3v3h-3zM1404 1126h2v5h-2zM1406 1126h3v5h-3zM1409 1129h2v2h-2zM1411 1129h3v2h-3zM1414 1129h2v5h-2zM1416 1129h3v5h-3zM1419 1131h2v3h-2zM1421 1131h3v3h-3zM1424 1131h2v6h-2zM1426 1131h3v6h-3zM1429 1131h2v6h-2zM1431 1134h3v3h-3zM1434 1134h2v3h-2zM1436 1134h3v5h-3zM1439 1134h2v5h-2zM1441 1134h3v5h-3zM1444 1134h2v5h-2zM1446 1137h3v2h-3zM1449 1137h3v2h-3zM1452 1137h2v2h-2zM1454 1137h3v5h-3zM1457 1137h2v5h-2zM1459 1139h3v3h-3zM1462 1139h2v3h-2zM1464 1139h3v3h-3zM1467 1139h2v5h-2zM1469 1139h3v5h-3zM1472 1142h2v2h-2zM1474 1142h3v2h-3zM1477 1142h2v2h-2zM1479 1142h3v2h-3zM1482 1142h2v5h-2zM1484 1142h3v5h-3zM1487 1142h2v5h-2zM1489 1142h3v5h-3zM1492 1144h2v3h-2zM1494 1144h3v3h-3zM1497 1144h2v3h-2zM1499 1144h3v3h-3zM1502 1144h2v5h-2zM1504 1144h3v5h-3zM1507 1147h2v2h-2zM1509 1147h3v2h-3zM1512 1147h3v5h-3zM1515 1147h2v2h-2zM1517 1147h3v5h-3zM1520 1147h2v5h-2zM1522 1149h3v3h-3zM1525 1149h2v3h-2zM1527 1149h3v3h-3zM1530 1149h2v3h-2zM1532 1149h3v3h-3zM1535 1149h2v5h-2zM1537 1149h3v5h-3zM1540 1149h2v5h-2zM1542 1149h3v5h-3zM1545 1152h2v2h-2zM1547 1152h3v2h-3zM1550 1152h2v2h-2zM1552 1152h3v2h-3zM1555 1152h2v2h-2zM1557 1152h3v5h-3zM1560 1152h2v5h-2zM1562 1152h3v5h-3zM1565 1152h2v5h-2zM1567 1154h3v3h-3zM1570 1154h2v3h-2zM1572 1154h3v3h-3zM1575 1154h3v3h-3zM1578 1154h2v3h-2zM1580 1154h3v3h-3zM1583 1154h2v3h-2zM1585 1154h3v5h-3zM1588 1154h2v5h-2zM1590 1154h3v5h-3zM1593 1157h2v2h-2zM1595 1157h3v2h-3zM1598 1157h2v2h-2zM1600 1157h3v5h-3zM1603 1157h2v2h-2zM1605 1157h3v5h-3zM1608 1157h2v5h-2zM1610 1157h3v5h-3zM1613 1157h2v5h-2zM1615 1157h3v5h-3zM1618 1157h2v5h-2zM1620 1159h3v3h-3zM1623 1157h2v5h-2zM1625 1159h3v3h-3zM1628 1159h2v3h-2zM1630 1157h3v5h-3zM1633 1159h2v3h-2zM1635 1159h3v3h-3zM1638 1159h3v3h-3zM1641 1159h2v3h-2zM1643 1159h3v5h-3zM1646 1159h2v3h-2zM1648 1159h3v5h-3zM1651 1162h2v2h-2zM1653 1162h3v2h-3zM1656 1162h2v2h-2zM1658 1162h3v2h-3zM1661 1162h2v5h-2zM1663 1162h3v2h-3zM1666 1164h2v3h-2zM1668 1164h3v3h-3zM1671 1164h2v3h-2zM1673 1164h3v3h-3zM1676 1164h2v3h-2zM1678 1164h3v3h-3zM1681 1164h2v3h-2zM1683 1164h3v3h-3zM1686 1164h2v5h-2zM1688 1164h3v5h-3zM1691 1164h2v3h-2zM1693 1167h3v2h-3zM1696 1164h2v5h-2zM1698 1167h3v2h-3zM1701 1167h3v2h-3zM1704 1167h2v2h-2zM1706 1167h3v2h-3zM1709 1167h2v2h-2zM1711 1167h3v2h-3zM1714 1167h2v2h-2zM1716 1167h3v2h-3zM1719 1167h2v2h-2zM1721 1167h3v2h-3zM1724 1167h2v2h-2zM1726 1167h3v5h-3zM1729 1167h2v2h-2zM1731 1167h3v5h-3zM1734 1167h2v2h-2zM1736 1167h3v5h-3zM1739 1167h2v5h-2zM1741 1167h3v5h-3zM1744 1167h2v5h-2zM1746 1169h3v3h-3zM1749 1167h2v5h-2zM1751 1169h3v3h-3zM1754 1167h2v5h-2zM1756 1167h3v5h-3zM1759 1167h2v2h-2zM1761 1167h3v2h-3zM1764 1167h3v2h-3zM1767 1167h2v2h-2zM1769 1167h3v2h-3zM1772 1167h2v2h-2zM1774 1167h3v2h-3zM1777 1167h2v2h-2zM1779 1167h3v2h-3zM1782 1167h2v2h-2zM1784 1167h3v5h-3zM1787 1167h2v2h-2zM1789 1167h3v5h-3zM1792 1167h2v2h-2zM1794 1167h3v2h-3zM1797 1167h2v5h-2zM1799 1167h3v5h-3zM1802 1167h2v5h-2zM1804 1169h3v3h-3zM1807 1169h2v3h-2zM1809 1169h3v3h-3zM1812 1169h2v3h-2zM1814 1169h3v3h-3zM1817 1169h2v3h-2zM1819 1169h3v3h-3zM1822 1169h2v3h-2zM1824 1169h3v3h-3zM1827 1169h3v3h-3zM1830 1169h2v5h-2zM1832 1172h3v2h-3zM1835 1169h2v5h-2zM1837 1172h3v2h-3zM1840 1172h2v2h-2zM1842 1172h3v2h-3zM1845 1172h2v2h-2zM1847 1172h3v2h-3zM1850 1172h2v2h-2zM1852 1172h3v2h-3zM1855 1172h2v2h-2zM1857 1172h3v2h-3zM1860 1172h2v2h-2zM1862 1172h3v2h-3zM1865 1172h2v2h-2zM1867 1172h3v5h-3zM1870 1172h2v5h-2zM1872 1174h3v3h-3zM1875 1172h2v5h-2zM1877 1174h3v3h-3zM1880 1174h2v3h-2zM1882 1174h3v3h-3zM1885 1174h2v3h-2zM1887 1174h3v3h-3zM1890 1174h3v3h-3zM1893 1174h2v3h-2zM1895 1174h3v3h-3zM1898 1174h2v3h-2zM1900 1174h3v3h-3zM1903 1174h2v3h-2zM1905 1174h3v3h-3zM1908 1174h2v3h-2zM1910 1174h3v3h-3zM1913 1174h2v3h-2zM1915 1174h3v3h-3zM1918 1174h2v3h-2zM1920 1174h3v3h-3zM1923 1174h2v3h-2zM1925 1174h3v3h-3zM1928 1174h2v3h-2zM1930 1174h3v3h-3zM1933 1174h2v3h-2z" fill="#0000ff" shape-rendering="crispEdges"/>
<path d="M504 1184h3v3h-3zM507 1184h2v3h-2zM509 1184h3v3h-3zM512 1184h2v3h-2zM514 1182h3v5h-3zM517 1182h2v2h-2zM519 1182h3v2h-3zM522 1182h2v2h-2zM524 1179h3v5h-3zM527 1179h2v5h-2zM529 1179h3v3h-3zM532 1179h2v3h-2zM534 1179h3v3h-3zM537 1179h2v3h-2zM539 1177h3v2h-3zM542 1177h2v2h-2zM544 1174h3v5h-3zM547 1174h2v3h-2zM549 1172h3v5h-3zM552 1172h2v5h-2zM554 1172h3v5h-3zM557 1172h2v2h-2zM559 1169h3v3h-3zM562 1169h2v3h-2zM564 1167h3v5h-3zM567 1167h3v5h-3zM570 1167h2v2h-2zM572 1167h3v2h-3zM575 1164h2v3h-2zM577 1164h3v3h-3zM580 1164h2v3h-2zM582 1162h3v5h-3zM585 1162h2v2h-2zM587 1162h3v2h-3zM590 1159h2v3h-2zM592 1159h3v3h-3zM595 1157h2v5h-2zM597 1157h3v2h-3zM600 1154h2v5h-2zM602 1154h3v3h-3zM605 1152h2v5h-2zM607 1149h3v5h-3zM610 1144h2v5h-2zM612 1142h3v5h-3zM615 1142h2v2h-2zM617 1139h3v8h-3zM620 1144h2v10h-2zM622 1149h3v5h-3zM625 1149h2v3h-2zM627 1147h3v5h-3zM630 1147h3v2h-3zM633 1144h2v5h-2zM635 1142h3v5h-3zM638 1139h2v5h-2zM640 1137h3v5h-3zM643 1134h2v5h-2zM645 1131h3v6h-3zM648 1126h2v5h-2zM650 1124h3v5h-3zM653 1121h2v5h-2zM655 1114h3v10h-3zM658 1111h2v5h-2zM660 1106h3v5h-3zM663 1099h2v10h-2zM665 1094h3v7h-3zM668 1086h2v8h-2zM670 1079h3v7h-3zM673 1074h2v7h-2zM675 1068h3v8h-3zM678 1061h2v10h-2zM680 1056h3v7h-3zM683 1048h2v10h-2zM685 1041h3v10h-3zM688 1033h2v10h-2zM690 1023h3v13h-3zM693 1013h3v13h-3zM696 1003h2v13h-2zM698 993h3v12h-3zM701 983h2v10h-2zM703 975h3v10h-3zM706 968h2v10h-2zM708 953h3v15h-3zM711 942h2v13h-2zM713 930h3v12h-3zM716 922h2v8h-2zM718 915h3v10h-3zM721 910h2v7h-2zM723 905h3v7h-3zM726 892h2v15h-2zM728 874h3v21h-3zM731 857h2v20h-2zM733 839h3v20h-3zM736 827h2v15h-2zM738 816h3v13h-3zM741 804h2v15h-2zM743 794h3v12h-3zM746 779h2v17h-2zM748 764h3v17h-3zM751 751h2v15h-2zM753 736h3v15h-3zM756 723h3v15h-3zM759 711h2v15h-2zM761 701h3v12h-3zM764 688h2v15h-2zM766 678h3v12h-3zM769 660h2v18h-2zM771 645h3v18h-3zM774 630h2v18h-2zM776 612h3v21h-3zM779 595h2v17h-2zM781 582h3v15h-3zM784 570h2v15h-2zM786 557h3v15h-3zM789 547h2v12h-2zM791 534h3v15h-3zM794 524h2v10h-2zM796 509h3v18h-3zM799 499h2v13h-2zM801 486h3v15h-3zM804 476h2v10h-2zM806 461h3v15h-3zM809 454h2v10h-2zM811 444h3v12h-3zM814 433h2v11h-2zM816 421h3v15h-3zM819 411h3v12h-3zM822 403h2v10h-2zM824 393h3v13h-3zM827 383h2v13h-2zM829 375h3v11h-3zM832 365h2v13h-2zM834 358h3v10h-3zM837 350h2v10h-2zM839 343h3v7h-3zM842 335h2v10h-2zM844 330h3v10h-3zM847 320h2v13h-2zM849 315h3v10h-3zM852 310h2v8h-2zM854 305h3v10h-3zM857 302h2v5h-2zM859 297h3v8h-3zM862 292h2v8h-2zM864 292h3v5h-3zM867 287h2v5h-2zM869 285h3v10h-3zM872 282h2v10h-2zM874 285h3v5h-3zM877 275h2v12h-2zM879 275h3v5h-3zM882 275h3v17h-3zM885 267h2v20h-2zM887 252h3v18h-3zM890 252h2v23h-2zM892 265h3v7h-3zM895 265h2v7h-2zM897 265h3v7h-3zM900 267h2v10h-2zM902 272h3v5h-3zM905 270h2v10h-2zM907 275h3v5h-3zM910 270h2v10h-2zM912 270h3v7h-3zM915 272h2v15h-2zM917 285h3v5h-3zM920 282h2v8h-2zM922 285h3v7h-3zM925 282h2v13h-2zM927 292h3v8h-3zM930 292h2v8h-2zM932 292h3v8h-3zM935 297h2v5h-2zM937 295h3v10h-3zM940 300h2v5h-2zM942 300h3v10h-3zM945 305h3v7h-3zM948 310h2v5h-2zM950 312h3v8h-3zM953 318h2v10h-2zM955 325h3v8h-3zM958 328h2v15h-2zM960 338h3v7h-3zM963 338h2v10h-2zM965 343h3v7h-3zM968 343h2v12h-2zM970 343h3v15h-3zM973 350h2v20h-2zM975 358h3v23h-3zM978 373h2v28h-2zM980 396h3v12h-3zM983 403h2v8h-2zM985 403h3v8h-3zM988 401h2v15h-2zM990 406h3v12h-3zM993 406h2v22h-2zM995 413h3v13h-3zM998 411h2v38h-2zM1000 446h3v25h-3zM1003 451h2v15h-2zM1005 431h3v48h-3zM1008 426h3v75h-3zM1011 418h2v61h-2zM1013 456h3v20h-3zM1016 474h2v17h-2zM1018 489h3v7h-3zM1021 494h2v23h-2zM1023 512h3v10h-3zM1026 507h2v10h-2zM1028 509h3v20h-3zM1031 524h2v18h-2zM1033 537h3v15h-3zM1036 547h2v10h-2zM1038 552h3v10h-3zM1041 559h2v8h-2zM1043 564h3v8h-3zM1046 570h2v12h-2zM1048 577h3v10h-3zM1051 580h2v10h-2zM1053 587h3v10h-3zM1056 595h2v10h-2zM1058 600h3v7h-3zM1061 605h2v12h-2zM1063 615h3v5h-3zM1066 617h2v13h-2zM1068 627h3v8h-3zM1071 633h3v12h-3zM1074 643h2v7h-2zM1076 645h3v13h-3zM1079 655h2v8h-2zM1081 655h3v15h-3zM1084 668h2v7h-2zM1086 670h3v10h-3zM1089 675h2v10h-2zM1091 683h3v10h-3zM1094 690h2v11h-2zM1096 698h3v10h-3zM1099 708h2v8h-2zM1101 713h3v8h-3zM1104 713h2v13h-2zM1106 723h3v5h-3zM1109 726h2v12h-2zM1111 733h3v13h-3zM1114 743h2v8h-2zM1116 748h3v13h-3zM1119 759h2v7h-2zM1121 764h3v7h-3zM1124 771h2v8h-2zM1126 776h3v10h-3zM1129 784h2v5h-2zM1131 786h3v10h-3zM1134 794h3v7h-3zM1137 801h2v8h-2zM1139 806h3v8h-3zM1142 811h2v8h-2zM1144 816h3v8h-3zM1147 819h2v8h-2zM1149 824h3v5h-3zM1152 829h2v8h-2zM1154 834h3v5h-3zM1157 839h2v8h-2zM1159 844h3v5h-3zM1162 844h2v10h-2zM1164 852h3v7h-3zM1167 857h2v7h-2zM1169 859h3v8h-3zM1172 864h2v5h-2zM1174 867h3v7h-3zM1177 847h2v22h-2zM1179 844h3v88h-3zM1182 887h2v10h-2zM1184 895h3v10h-3zM1187 897h2v8h-2zM1189 900h3v12h-3zM1192 905h2v10h-2zM1194 910h3v10h-3zM1197 912h3v13h-3zM1200 917h2v15h-2zM1202 920h3v12h-3zM1205 927h2v8h-2zM1207 927h3v13h-3zM1210 930h2v7h-2zM1212 935h3v5h-3zM1215 935h2v10h-2zM1217 940h3v5h-3zM1220 942h2v8h-2zM1222 948h3v7h-3zM1225 948h2v12h-2zM1227 953h3v10h-3zM1230 955h2v8h-2zM1232 958h3v7h-3zM1235 963h2v7h-2zM1237 945h3v28h-3zM1240 973h2v5h-2zM1242 973h3v12h-3zM1245 978h2v12h-2zM1247 983h3v10h-3zM1250 978h2v7h-2zM1252 978h3v10h-3zM1255 983h2v7h-2zM1257 985h3v5h-3zM1260 985h3v8h-3zM1263 988h2v5h-2zM1265 988h3v12h-3zM1268 985h2v10h-2zM1270 995h3v8h-3zM1273 1000h2v5h-2zM1275 1003h3v8h-3zM1278 1005h2v8h-2zM1280 1005h3v8h-3zM1283 998h2v15h-2zM1285 998h3v7h-3zM1288 995h2v28h-2zM1290 1021h3v7h-3zM1293 1026h2v7h-2zM1295 1023h3v5h-3zM1298 1021h2v7h-2zM1300 1021h3v10h-3zM1303 1023h2v8h-2zM1305 1026h3v5h-3zM1308 1028h2v8h-2zM1310 1033h3v5h-3zM1313 1033h2v5h-2zM1315 1033h3v5h-3zM1318 1036h2v2h-2zM1320 1036h3v5h-3zM1323 1038h3v5h-3zM1326 1041h2v5h-2zM1328 1043h3v5h-3zM1331 1043h2v5h-2zM1333 1043h3v8h-3zM1336 1046h2v5h-2zM1338 1048h3v5h-3zM1341 1051h2v2h-2zM1343 1051h3v5h-3zM1346 1053h2v5h-2zM1348 1053h3v5h-3zM1351 1056h2v5h-2zM1353 1056h3v7h-3zM1356 1061h2v2h-2zM1358 1061h3v5h-3zM1361 1063h2v5h-2zM1363 1063h3v5h-3zM1366 1066h2v2h-2zM1368 1066h3v5h-3zM1371 1068h2v6h-2zM1373 1068h3v6h-3zM1376 1071h2v5h-2zM1378 1071h3v5h-3zM1381 1074h2v2h-2zM1383 1074h3v5h-3zM1386 1076h3v3h-3zM1389 1076h2v5h-2zM1391 1079h3v2h-3zM1394 1081h2v3h-2zM1396 1081h3v5h-3zM1399 1084h2v2h-2zM1401 1086h3v3h-3zM1404 1086h2v5h-2zM1406 1089h3v2h-3zM1409 1089h2v2h-2zM1411 1089h3v5h-3zM1414 1091h2v3h-2zM1416 1091h3v3h-3zM1419 1094h2v2h-2zM1421 1094h3v2h-3zM1424 1094h2v5h-2zM1426 1096h3v3h-3zM1429 1096h2v5h-2zM1431 1096h3v5h-3zM1434 1099h2v5h-2zM1436 1101h3v3h-3zM1439 1101h2v3h-2zM1441 1101h3v3h-3zM1444 1101h2v5h-2zM1446 1104h3v2h-3zM1449 1104h3v5h-3zM1452 1104h2v5h-2zM1454 1104h3v5h-3zM1457 1106h2v3h-2zM1459 1106h3v3h-3zM1462 1106h2v3h-2zM1464 1106h3v5h-3zM1467 1106h2v5h-2zM1469 1109h3v2h-3zM1472 1109h2v5h-2zM1474 1109h3v5h-3zM1477 1111h2v3h-2zM1479 1111h3v3h-3zM1482 1111h2v3h-2zM1484 1111h3v5h-3zM1487 1114h2v2h-2zM1489 1114h3v5h-3zM1492 1116h2v3h-2zM1494 1116h3v3h-3zM1497 1116h2v3h-2zM1499 1116h3v5h-3zM1502 1116h2v5h-2zM1504 1116h3v8h-3zM1507 1119h2v5h-2zM1509 1121h3v3h-3zM1512 1119h3v5h-3zM1515 1121h2v5h-2zM1517 1121h3v5h-3zM1520 1121h2v5h-2zM1522 1124h3v2h-3zM1525 1124h2v2h-2zM1527 1124h3v2h-3zM1530 1124h2v5h-2zM1532 1124h3v5h-3zM1535 1124h2v5h-2zM1537 1126h3v3h-3zM1540 1126h2v5h-2zM1542 1126h3v5h-3zM1545 1129h2v2h-2zM1547 1126h3v5h-3zM1550 1129h2v2h-2zM1552 1129h3v2h-3zM1555 1129h2v5h-2zM1557 1129h3v5h-3zM1560 1131h2v3h-2zM1562 1131h3v3h-3zM1565 1131h2v3h-2zM1567 1131h3v6h-3zM1570 1131h2v6h-2zM1572 1134h3v3h-3zM1575 1134h3v3h-3zM1578 1134h2v3h-2zM1580 1134h3v5h-3zM1583 1134h2v5h-2zM1585 1134h3v5h-3zM1588 1134h2v5h-2zM1590 1137h3v2h-3zM1593 1137h2v2h-2zM1595 1137h3v2h-3zM1598 1137h2v5h-2zM1600 1137h3v5h-3zM1603 1137h2v5h-2zM1605 1139h3v3h-3zM1608 1139h2v3h-2zM1610 1139h3v3h-3zM1613 1137h2v5h-2zM1615 1139h3v5h-3zM1618 1139h2v5h-2zM1620 1142h3v2h-3zM1623 1142h2v2h-2zM1625 1142h3v2h-3zM1628 1142h2v2h-2zM1630 1142h3v2h-3zM1633 1142h2v5h-2zM1635 1142h3v5h-3zM1638 1142h3v5h-3zM1641 1144h2v3h-2zM1643 1144h3v3h-3zM1646 1144h2v3h-2zM1648 1144h3v3h-3zM1651 1144h2v3h-2zM1653 1144h3v5h-3zM1656 1144h2v5h-2zM1658 1144h3v5h-3zM1661 1147h2v2h-2zM1663 1147h3v2h-3zM1666 1147h2v2h-2zM1668 1147h3v2h-3zM1671 1147h2v2h-2zM1673 1147h3v2h-3zM1676 1147h2v2h-2zM1678 1147h3v2h-3zM1681 1147h2v2h-2zM1683 1147h3v2h-3zM1686 1147h2v2h-2zM1688 1147h3v2h-3zM1691 1147h2v2h-2zM1693 1149h3v3h-3zM1696 1149h2v5h-2zM1698 1149h3v3h-3zM1701 1149h3v5h-3zM1704 1149h2v5h-2zM1706 1152h3v2h-3zM1709 1152h2v2h-2zM1711 1152h3v2h-3zM1714 1152h2v2h-2zM1716 1152h3v2h-3zM1719 1152h2v5h-2zM1721 1154h3v3h-3zM1724 1152h2v5h-2zM1726 1154h3v3h-3zM1729 1154h2v3h-2zM1731 1154h3v5h-3zM1734 1154h2v5h-2zM1736 1154h3v5h-3zM1739 1154h2v5h-2zM1741 1154h3v5h-3zM1744 1154h2v5h-2zM1746 1157h3v2h-3zM1749 1157h2v2h-2zM1751 1157h3v2h-3zM1754 1157h2v2h-2zM1756 1157h3v2h-3zM1759 1157h2v2h-2zM1761 1157h3v2h-3zM1764 1157h3v2h-3zM1767 1157h2v2h-2zM1769 1154h3v5h-3zM1772 1154h2v5h-2zM1774 1154h3v3h-3zM1777 1154h2v3h-2zM1779 1152h3v5h-3zM1782 1152h2v5h-2zM1784 1152h3v5h-3zM1787 1152h2v5h-2zM1789 1152h3v5h-3zM1792 1152h2v5h-2zM1794 1152h3v5h-3zM1797 1152h2v5h-2zM1799 1152h3v5h-3zM1802 1152h2v5h-2zM1804 1152h3v5h-3zM1807 1154h2v3h-2zM1809 1152h3v5h-3zM1812 1154h2v3h-2zM1814 1154h3v3h-3zM1817 1154h2v5h-2zM1819 1157h3v2h-3zM1822 1157h2v2h-2zM1824 1157h3v5h-3zM1827 1157h3v5h-3zM1830 1157h2v5h-2zM1832 1159h3v3h-3zM1835 1159h2v3h-2zM1837 1159h3v3h-3zM1840 1159h2v3h-2zM1842 1159h3v3h-3zM1845 1159h2v3h-2zM1847 1159h3v3h-3zM1850 1159h2v3h-2zM1852 1159h3v5h-3zM1855 1159h2v5h-2zM1857 1162h3v2h-3zM1860 1162h2v2h-2zM1862 1162h3v2h-3zM1865 1162h2v2h-2zM1867 1162h3v2h-3zM1870 1162h2v2h-2zM1872 1162h3v2h-3zM1875 1164h2v3h-2zM1877 1162h3v5h-3zM1880 1164h2v3h-2zM1882 1164h3v3h-3zM1885 1164h2v3h-2zM1887 1164h3v3h-3zM1890 1164h3v3h-3zM1893 1164h2v3h-2zM1895 1164h3v3h-3zM1898 1164h2v5h-2zM1900 1164h3v5h-3zM1903 1164h2v5h-2zM1905 1167h3v2h-3zM1908 1167h2v2h-2zM1910 1167h3v2h-3zM1913 1167h2v2h-2zM1915 1167h3v2h-3zM1918 1167h2v2h-2zM1920 1167h3v2h-3zM1923 1167h2v2h-2zM1925 1167h3v2h-3zM1928 1167h2v2h-2zM1930 1167h3v2h-3zM1933 1167h2v2h-2z" fill="#008080" shape-rendering="crispEdges"/>
<path d="M509 1184h3v3h-3zM512 1182h2v5h-2zM514 1184h3v3h-3zM517 1184h2v3h-2zM519 1182h3v5h-3zM522 1179h2v5h-2zM524 1174h3v5h-3zM527 1169h2v8h-2zM529 1162h3v10h-3zM532 1149h2v15h-2zM534 1139h3v13h-3zM537 1126h2v13h-2zM539 1111h3v18h-3zM542 1099h2v15h-2zM544 1079h3v20h-3zM547 1061h2v18h-2zM549 1043h3v20h-3zM552 1023h2v23h-2zM554 1000h3v23h-3zM557 990h2v13h-2zM559 980h3v13h-3zM562 963h2v17h-2zM564 958h3v7h-3zM567 955h3v5h-3zM570 953h2v5h-2zM572 955h3v5h-3zM575 958h2v5h-2zM577 955h3v5h-3zM580 953h2v5h-2zM582 955h3v10h-3zM585 963h2v7h-2zM587 968h3v10h-3zM590 973h2v10h-2zM592 983h3v10h-3zM595 990h2v15h-2zM597 1003h3v23h-3zM600 1023h2v10h-2zM602 1013h3v13h-3zM605 1013h2v5h-2zM607 1013h3v5h-3zM610 1016h2v5h-2zM612 1018h3v8h-3zM615 1023h2v8h-2zM617 1028h3v8h-3zM620 1003h2v38h-2zM622 1003h3v2h-3zM625 1003h2v8h-2zM627 1003h3v8h-3zM630 1008h3v8h-3zM633 1013h2v8h-2zM635 1018h3v3h-3zM638 1018h2v5h-2zM640 1021h3v5h-3zM643 1021h2v5h-2zM645 1021h3v5h-3zM648 1021h2v5h-2zM650 1021h3v2h-3zM653 1021h2v2h-2zM655 1021h3v2h-3zM658 1018h2v5h-2zM660 1018h3v5h-3zM663 1018h2v5h-2zM665 1016h3v7h-3zM668 1016h2v5h-2zM670 1016h3v5h-3zM673 1013h2v5h-2zM675 1011h3v7h-3zM678 1011h2v2h-2zM680 1008h3v5h-3zM683 1008h2v5h-2zM685 1005h3v6h-3zM688 1003h2v5h-2zM690 998h3v7h-3zM693 995h3v5h-3zM696 993h2v5h-2zM698 988h3v7h-3zM701 985h2v5h-2zM703 980h3v8h-3zM706 980h2v5h-2zM708 978h3v5h-3zM711 975h2v5h-2zM713 970h3v8h-3zM716 968h2v7h-2zM718 965h3v5h-3zM721 960h2v5h-2zM723 958h3v7h-3zM726 950h2v10h-2zM728 948h3v5h-3zM731 942h2v8h-2zM733 940h3v5h-3zM736 935h2v7h-2zM738 932h3v5h-3zM741 927h2v5h-2zM743 922h3v8h-3zM746 920h2v5h-2zM748 917h3v5h-3zM751 912h2v8h-2zM753 910h3v5h-3zM756 907h3v5h-3zM759 905h2v5h-2zM761 902h3v5h-3zM764 900h2v5h-2zM766 897h3v5h-3zM769 897h2v3h-2zM771 892h3v5h-3zM774 890h2v5h-2zM776 887h3v5h-3zM779 885h2v5h-2zM781 882h3v5h-3zM784 882h2v3h-2zM786 879h3v6h-3zM789 877h2v5h-2zM791 874h3v8h-3zM794 874h2v5h-2zM796 872h3v5h-3zM799 872h2v5h-2zM801 872h3v2h-3zM804 872h2v2h-2zM806 869h3v3h-3zM809 869h2v3h-2zM811 867h3v5h-3zM814 867h2v5h-2zM816 867h3v5h-3zM819 867h3v5h-3zM822 867h2v5h-2zM824 869h3v3h-3zM827 869h2v5h-2zM829 869h3v5h-3zM832 872h2v2h-2zM834 872h3v5h-3zM837 872h2v5h-2zM839 874h3v5h-3zM842 877h2v5h-2zM844 877h3v5h-3zM847 879h2v3h-2zM849 879h3v6h-3zM852 882h2v5h-2zM854 885h3v5h-3zM857 887h2v5h-2zM859 890h3v2h-3zM862 892h2v3h-2zM864 892h3v5h-3zM867 895h2v5h-2zM869 897h3v5h-3zM872 900h2v5h-2zM874 902h3v5h-3zM877 905h2v5h-2zM879 907h3v5h-3zM882 907h3v5h-3zM885 910h2v7h-2zM887 912h3v5h-3zM890 917h2v5h-2zM892 917h3v8h-3zM895 922h2v5h-2zM897 927h3v3h-3zM900 927h2v8h-2zM902 932h3v5h-3zM905 935h2v5h-2zM907 937h3v5h-3zM910 942h2v6h-2zM912 945h3v5h-3zM915 945h2v8h-2zM917 950h3v5h-3zM920 953h2v5h-2zM922 955h3v5h-3zM925 958h2v5h-2zM927 960h3v8h-3zM930 965h2v5h-2zM932 968h3v5h-3zM935 970h2v5h-2zM937 975h3v5h-3zM940 978h2v5h-2zM942 980h3v5h-3zM945 983h3v5h-3zM948 985h2v5h-2zM950 988h3v5h-3zM953 990h2v5h-2zM955 995h3v3h-3zM958 995h2v5h-2zM960 998h3v5h-3zM963 1000h2v5h-2zM965 1003h3v5h-3zM968 1005h2v6h-2zM970 1008h3v5h-3zM973 1011h2v7h-2zM975 1016h3v7h-3zM978 1021h2v7h-2zM980 1026h3v5h-3zM983 1028h2v5h-2zM985 1031h3v5h-3zM988 1033h2v5h-2zM990 1036h3v5h-3zM993 1038h2v5h-2zM995 1041h3v5h-3zM998 1043h2v5h-2zM1000 1046h3v5h-3zM1003 1048h2v5h-2zM1005 1051h3v5h-3zM1008 1053h3v5h-3zM1011 1056h2v5h-2zM1013 1056h3v7h-3zM1016 1061h2v5h-2zM1018 1063h3v5h-3zM1021 1066h2v5h-2zM1023 1068h3v6h-3zM1026 1071h2v5h-2zM1028 1074h3v5h-3zM1031 1076h2v5h-2zM1033 1079h3v5h-3zM1036 1081h2v5h-2zM1038 1084h3v5h-3zM1041 1086h2v5h-2zM1043 1089h3v2h-3zM1046 1091h2v3h-2zM1048 1091h3v5h-3zM1051 1094h2v5h-2zM1053 1096h3v3h-3zM1056 1096h2v5h-2zM1058 1099h3v2h-3zM1061 1101h2v3h-2zM1063 1101h3v5h-3zM1066 1104h2v5h-2zM1068 1104h3v5h-3zM1071 1106h3v5h-3zM1074 1109h2v2h-2zM1076 1109h3v5h-3zM1079 1111h2v5h-2zM1081 1114h3v2h-3zM1084 1114h2v5h-2zM1086 1116h3v3h-3zM1089 1116h2v5h-2zM1091 1119h3v5h-3zM1094 1121h2v3h-2zM1096 1121h3v3h-3zM1099 1124h2v2h-2zM1101 1124h3v5h-3zM1104 1126h2v3h-2zM1106 1126h3v5h-3zM1109 1129h2v5h-2zM1111 1131h3v3h-3zM1114 1131h2v6h-2zM1116 1134h3v3h-3zM1119 1134h2v5h-2zM1121 1137h3v2h-3zM1124 1137h2v5h-2zM1126 1139h3v3h-3zM1129 1139h2v5h-2zM1131 1142h3v2h-3zM1134 1142h3v2h-3zM1137 1144h2v3h-2zM1139 1144h3v3h-3zM1142 1144h2v3h-2zM1144 1144h3v5h-3zM1147 1147h2v2h-2zM1149 1147h3v2h-3zM1152 1147h2v5h-2zM1154 1149h3v3h-3zM1157 1149h2v3h-2zM1159 1149h3v5h-3zM1162 1149h2v5h-2zM1164 1152h3v2h-3zM1167 1152h2v2h-2zM1169 1152h3v5h-3zM1172 1154h2v3h-2zM1174 1154h3v3h-3zM1177 1154h2v3h-2zM1179 1154h3v3h-3zM1182 1154h2v5h-2zM1184 1157h3v2h-3zM1187 1157h2v2h-2zM1189 1157h3v2h-3zM1192 1157h2v2h-2zM1194 1159h3v3h-3zM1197 1159h3v3h-3zM1200 1159h2v3h-2zM1202 1159h3v5h-3zM1205 1159h2v5h-2zM1207 1162h3v2h-3zM1210 1162h2v2h-2zM1212 1162h3v5h-3zM1215 1162h2v5h-2zM1217 1164h3v3h-3zM1220 1164h2v3h-2zM1222 1164h3v5h-3zM1225 1164h2v5h-2zM1227 1167h3v2h-3zM1230 1167h2v2h-2zM1232 1167h3v2h-3zM1235 1167h2v5h-2zM1237 1167h3v5h-3zM1240 1167h2v5h-2zM1242 1167h3v5h-3zM1245 1167h2v5h-2zM1247 1169h3v3h-3zM1250 1169h2v3h-2zM1252 1169h3v5h-3zM1255 1169h2v5h-2zM1257 1169h3v5h-3zM1260 1172h3v2h-3zM1263 1172h2v2h-2zM1265 1172h3v2h-3zM1268 1172h2v2h-2zM1270 1172h3v2h-3zM1273 1172h2v2h-2zM1275 1172h3v2h-3zM1278 1172h2v5h-2zM1280 1172h3v5h-3zM1283 1172h2v5h-2zM1285 1172h3v5h-3zM1288 1174h2v3h-2zM1290 1174h3v3h-3zM1293 1174h2v3h-2zM1295 1174h3v3h-3zM1298 1174h2v3h-2zM1300 1174h3v3h-3zM1303 1174h2v3h-2zM1305 1174h3v5h-3zM1308 1174h2v5h-2zM1310 1174h3v5h-3zM1313 1177h2v2h-2zM1315 1177h3v2h-3zM1318 1177h2v2h-2zM1320 1177h3v2h-3zM1323 1177h3v2h-3zM1326 1177h2v2h-2zM1328 1177h3v2h-3zM1331 1177h2v2h-2zM1333 1177h3v2h-3zM1336 1177h2v2h-2zM1338 1177h3v2h-3zM1341 1177h2v2h-2zM1343 1177h3v2h-3zM1346 1177h2v2h-2zM1348 1177h3v2h-3zM1351 1177h2v2h-2zM1353 1177h3v2h-3zM1356 1177h2v2h-2zM1358 1177h3v2h-3zM1361 1177h2v5h-2zM1363 1177h3v5h-3zM1366 1177h2v5h-2zM1368 1177h3v5h-3zM1371 1177h2v5h-2zM1373 1177h3v5h-3zM1376 1179h2v3h-2zM1378 1179h3v3h-3zM1381 1179h2v3h-2zM1383 1179h3v3h-3zM1386 1179h3v3h-3zM1389 1179h2v3h-2zM1391 1179h3v3h-3zM1394 1179h2v3h-2zM1396 1179h3v3h-3zM1399 1179h2v3h-2zM1401 1179h3v3h-3zM1404 1179h2v3h-2zM1406 1179h3v3h-3zM1409 1179h2v5h-2zM1411 1179h3v3h-3zM1414 1179h2v5h-2zM1416 1179h3v5h-3zM1419 1179h2v5h-2zM1421 1179h3v5h-3zM1424 1179h2v5h-2zM1426 1179h3v5h-3zM1429 1179h2v5h-2zM1431 1179h3v5h-3zM1434 1182h2v2h-2zM1436 1179h3v5h-3zM1439 1182h2v2h-2zM1441 1179h3v5h-3zM1444 1182h2v2h-2zM1446 1182h3v2h-3zM1449 1182h3v2h-3zM1452 1182h2v2h-2zM1454 1179h3v5h-3zM1457 1182h2v2h-2zM1459 1182h3v2h-3zM1462 1182h2v2h-2zM1464 1182h3v2h-3zM1467 1182h2v2h-2zM1469 1182h3v2h-3zM1472 1182h2v2h-2zM1474 1182h3v2h-3zM1477 1182h2v2h-2zM1479 1182h3v2h-3zM1482 1182h2v2h-2zM1484 1182h3v2h-3zM1487 1182h2v2h-2zM1489 1182h3v2h-3zM1492 1182h2v2h-2zM1494 1182h3v2h-3zM1497 1182h2v2h-2zM1499 1182h3v2h-3zM1502 1182h2v2h-2zM1504 1182h3v2h-3zM1507 1182h2v2h-2zM1509 1182h3v2h-3zM1512 1182h3v2h-3zM1515 1182h2v2h-2zM1517 1182h3v2h-3zM1520 1182h2v2h-2zM1522 1182h3v5h-3zM1525 1182h2v5h-2zM1527 1182h3v5h-3zM1530 1182h2v5h-2zM1532 1182h3v5h-3zM1535 1182h2v5h-2zM1537 1182h3v5h-3zM1540 1184h2v3h-2zM1542 1182h3v5h-3zM1545 1184h2v3h-2zM1547 1182h3v5h-3zM1550 1182h2v5h-2zM1552 1182h3v5h-3zM1555 1182h2v5h-2zM1557 1182h3v5h-3zM1560 1182h2v5h-2zM1562 1182h3v5h-3zM1565 1182h2v5h-2zM1567 1182h3v5h-3zM1570 1182h2v5h-2zM1572 1184h3v3h-3zM1575 1182h3v5h-3zM1578 1184h2v3h-2zM1580 1184h3v3h-3zM1583 1182h2v5h-2zM1585 1182h3v5h-3zM1588 1182h2v5h-2zM1590 1182h3v5h-3zM1593 1184h2v3h-2zM1595 1182h3v5h-3zM1598 1184h2v3h-2zM1600 1184h3v3h-3zM1603 1182h2v5h-2zM1605 1182h3v5h-3zM1608 1182h2v5h-2zM1610 1182h3v5h-3zM1613 1182h2v5h-2zM1615 1182h3v5h-3zM1618 1182h2v5h-2zM1620 1184h3v3h-3zM1623 1182h2v5h-2zM1625 1182h3v2h-3zM1628 1182h2v5h-2zM1630 1182h3v5h-3zM1633 1184h2v3h-2zM1635 1182h3v5h-3zM1638 1184h3v3h-3zM1641 1182h2v5h-2zM1643 1182h3v5h-3zM1646 1182h2v5h-2zM1648 1182h3v5h-3zM1651 1182h2v5h-2zM1653 1182h3v5h-3zM1656 1182h2v5h-2zM1658 1182h3v5h-3zM1661 1182h2v5h-2zM1663 1182h3v5h-3zM1666 1182h2v5h-2zM1668 1182h3v5h-3zM1671 1182h2v5h-2zM1673 1182h3v5h-3zM1676 1184h2v3h-2zM1678 1182h3v5h-3zM1681 1184h2v3h-2zM1683 1182h3v5h-3zM1686 1182h2v5h-2zM1688 1182h3v5h-3zM1691 1182h2v5h-2zM1693 1182h3v5h-3zM1696 1182h2v5h-2zM1698 1184h3v3h-3zM1701 1182h3v5h-3zM1704 1182h2v5h-2zM1706 1182h3v5h-3zM1709 1182h2v5h-2zM1711 1184h3v3h-3zM1714 1182h2v5h-2zM1716 1182h3v5h-3zM1719 1182h2v5h-2zM1721 1184h3v3h-3zM1724 1184h2v3h-2zM1726 1182h3v5h-3zM1729 1184h2v3h-2zM1731 1184h3v3h-3zM1734 1184h2v3h-2zM1736 1182h3v5h-3zM1739 1184h2v3h-2zM1741 1184h3v3h-3zM1744 1184h2v3h-2zM1746 1184h3v3h-3zM1749 1184h2v3h-2zM1751 1184h3v3h-3zM1754 1184h2v3h-2zM1756 1184h3v3h-3zM1759 1184h2v3h-2zM1761 1184h3v3h-3zM1764 1184h3v3h-3zM1767 1184h2v3h-2zM1769 1184h3v3h-3zM1772 1184h2v3h-2zM1774 1184h3v3h-3zM1777 1182h2v5h-2zM1779 1184h3v3h-3zM1782 1184h2v3h-2zM1784 1184h3v3h-3zM1787 1184h2v3h-2zM1789 1184h3v3h-3zM1792 1182h2v5h-2zM1794 1184h3v3h-3zM1797 1184h2v3h-2zM1799 1184h3v3h-3zM1802 1182h2v5h-2zM1804 1184h3v3h-3zM1807 1184h2v3h-2zM1809 1184h3v3h-3zM1812 1182h2v5h-2zM1814 1182h3v5h-3zM1817 1184h2v3h-2zM1819 1184h3v3h-3zM1822 1184h2v3h-2zM1824 1182h3v5h-3zM1827 1184h3v3h-3zM1830 1184h2v3h-2zM1832 1184h3v3h-3zM1835 1184h2v3h-2zM1837 1184h3v3h-3zM1840 1184h2v3h-2zM1842 1184h3v3h-3zM1845 1184h2v3h-2zM1847 1184h3v3h-3zM1850 1184h2v3h-2zM1852 1184h3v3h-3zM1855 1184h2v3h-2zM1857 1184h3v3h-3zM1860 1184h2v3h-2zM1862 1184h3v3h-3zM1865 1184h2v3h-2zM1867 1184h3v3h-3zM1870 1184h2v3h-2zM1872 1184h3v3h-3zM1875 1184h2v3h-2zM1877 1184h3v3h-3zM1880 1184h2v3h-2zM1882 1184h3v3h-3zM1885 1184h2v3h-2zM1887 1184h3v3h-3zM1890 1184h3v3h-3zM1893 1184h2v3h-2zM1895 1184h3v3h-3zM1898 1184h2v3h-2zM1900 1184h3v3h-3zM1903 1184h2v3h-2zM1905 1184h3v3h-3zM1908 1184h2v3h-2zM1910 1184h3v3h-3zM1913 1184h2v3h-2zM1915 1184h3v3h-3zM1918 1184h2v3h-2zM1920 1184h3v3h-3zM1923 1184h2v3h-2zM1925 1184h3v3h-3zM1928 1184h2v3h-2zM1930 1184h3v3h-3zM1933 1184h2v3h-2z" fill="#ff00ff" shape-rendering="crispEdges"/>
<text x="145.6" y="1204.0" font-family="Liberation Serif, serif" font-size="65.5" textLength="221" lengthAdjust="spacingAndGlyphs">0.00000</text>
<text x="145.6" y="974.6" font-family="Liberation Serif, serif" font-size="65.5" textLength="221" lengthAdjust="spacingAndGlyphs">0.00002</text>
<text x="145.6" y="748.1" font-family="Liberation Serif, serif" font-size="65.5" textLength="221" lengthAdjust="spacingAndGlyphs">0.00004</text>
<text x="145.6" y="521.7" font-family="Liberation Serif, serif" font-size="65.5" textLength="221" lengthAdjust="spacingAndGlyphs">0.00006</text>
<text x="145.6" y="292.2" font-family="Liberation Serif, serif" font-size="65.5" textLength="221" lengthAdjust="spacingAndGlyphs">0.00008</text>
<text x="145.6" y="65.6" font-family="Liberation Serif, serif" font-size="65.5" textLength="221" lengthAdjust="spacingAndGlyphs">0.00010</text>
<text x="451.2" y="1260.8" font-family="Liberation Serif, serif" font-size="66" textLength="102.6" lengthAdjust="spacingAndGlyphs">500</text>
<text x="723.1" y="1260.8" font-family="Liberation Serif, serif" font-size="66" textLength="136.8" lengthAdjust="spacingAndGlyphs">1000</text>
<text x="1008.9" y="1260.8" font-family="Liberation Serif, serif" font-size="66" textLength="136.8" lengthAdjust="spacingAndGlyphs">1500</text>
<text x="1292.2" y="1260.8" font-family="Liberation Serif, serif" font-size="66" textLength="136.8" lengthAdjust="spacingAndGlyphs">2000</text>
<text x="1579.3" y="1260.8" font-family="Liberation Serif, serif" font-size="66" textLength="136.8" lengthAdjust="spacingAndGlyphs">2500</text>
<text x="1863.6" y="1260.8" font-family="Liberation Serif, serif" font-size="66" textLength="136.8" lengthAdjust="spacingAndGlyphs">3000</text>
<text x="858.6" y="1389.6" font-family="Liberation Serif, serif" font-size="87" textLength="613" lengthAdjust="spacingAndGlyphs">Wavelength (nm)</text>
<text transform="translate(102.2,860) rotate(-90)" font-family="Liberation Serif, serif"><tspan x="4.5" y="0" font-size="94">F</tspan><tspan x="52.9" y="0" font-size="94">O</tspan><tspan x="114.9" y="0" font-size="94">M</tspan><tspan x="217.6" y="0" font-size="94">(</tspan><tspan x="249.5" y="0" font-size="83">Ω</tspan><tspan x="309.2" y="-48.1" font-size="55">-</tspan><tspan x="325.7" y="-48.1" font-size="55">1</tspan><tspan x="357.6" y="0" font-size="94">)</tspan></text>
<rect x="1204.5" y="154.1" width="121.3" height="2.6" fill="#000000"/>
<text transform="scale(0.93,1)" y="171.9" font-family="Liberation Sans, sans-serif" font-size="55.5"><tspan x="1441.5 1473.2 1508.5 1553.0 1568.1 1611.9">ZnO/Cu</tspan><tspan x="1643.9" y="193.1" font-size="29.5">2</tspan><tspan x="1662.6" y="171.9">S</tspan> <tspan x="1718.0 1752.4 1765.7 1798.4 1830.1 1864.3">0/60nm</tspan></text>
<rect x="1204.5" y="239.0" width="121.3" height="2.6" fill="#ff0000"/>
<text transform="scale(0.93,1)" y="256.9" font-family="Liberation Sans, sans-serif" font-size="55.5"><tspan x="1441.5 1473.2 1508.5 1553.0 1568.1 1611.9">ZnO/Cu</tspan><tspan x="1643.9" y="278.1" font-size="29.5">2</tspan><tspan x="1662.6" y="256.9">S</tspan> <tspan x="1716.2 1751.9 1782.8 1798.7 1831.7 1863.3 1897.2">15/60nm</tspan></text>
<rect x="1204.5" y="321.3" width="121.3" height="2.6" fill="#0000ff"/>
<text transform="scale(0.93,1)" y="339.2" font-family="Liberation Sans, sans-serif" font-size="55.5"><tspan x="1441.5 1473.2 1508.5 1553.0 1568.1 1611.9">ZnO/Cu</tspan><tspan x="1643.9" y="360.4" font-size="29.5">2</tspan><tspan x="1662.6" y="339.2">S</tspan> <tspan x="1718.6 1751.3 1782.8 1798.7 1831.7 1863.3 1897.2">30/60nm</tspan></text>
<rect x="1204.5" y="406.3" width="121.3" height="2.6" fill="#008080"/>
<text transform="scale(0.93,1)" y="424.3" font-family="Liberation Sans, sans-serif" font-size="55.5"><tspan x="1441.5 1473.2 1508.5 1553.0 1568.1 1611.9">ZnO/Cu</tspan><tspan x="1643.9" y="445.5" font-size="29.5">2</tspan><tspan x="1662.6" y="424.3">S</tspan> <tspan x="1717.3 1751.9 1782.8 1798.7 1831.7 1863.3 1897.2">45/60nm</tspan></text>
<rect x="1204.5" y="488.8" width="121.3" height="2.6" fill="#ff00ff"/>
<text transform="scale(0.93,1)" y="507" font-family="Liberation Sans, sans-serif" font-size="55.5"><tspan x="1441.5 1473.2 1508.5 1553.0 1568.1 1611.9">ZnO/Cu</tspan><tspan x="1643.9" y="528.2" font-size="29.5">2</tspan><tspan x="1662.6" y="507">S</tspan> <tspan x="1718.0 1751.3 1782.8 1798.7 1831.7 1863.3 1897.2">60/60nm</tspan></text>
</svg></body></html>
